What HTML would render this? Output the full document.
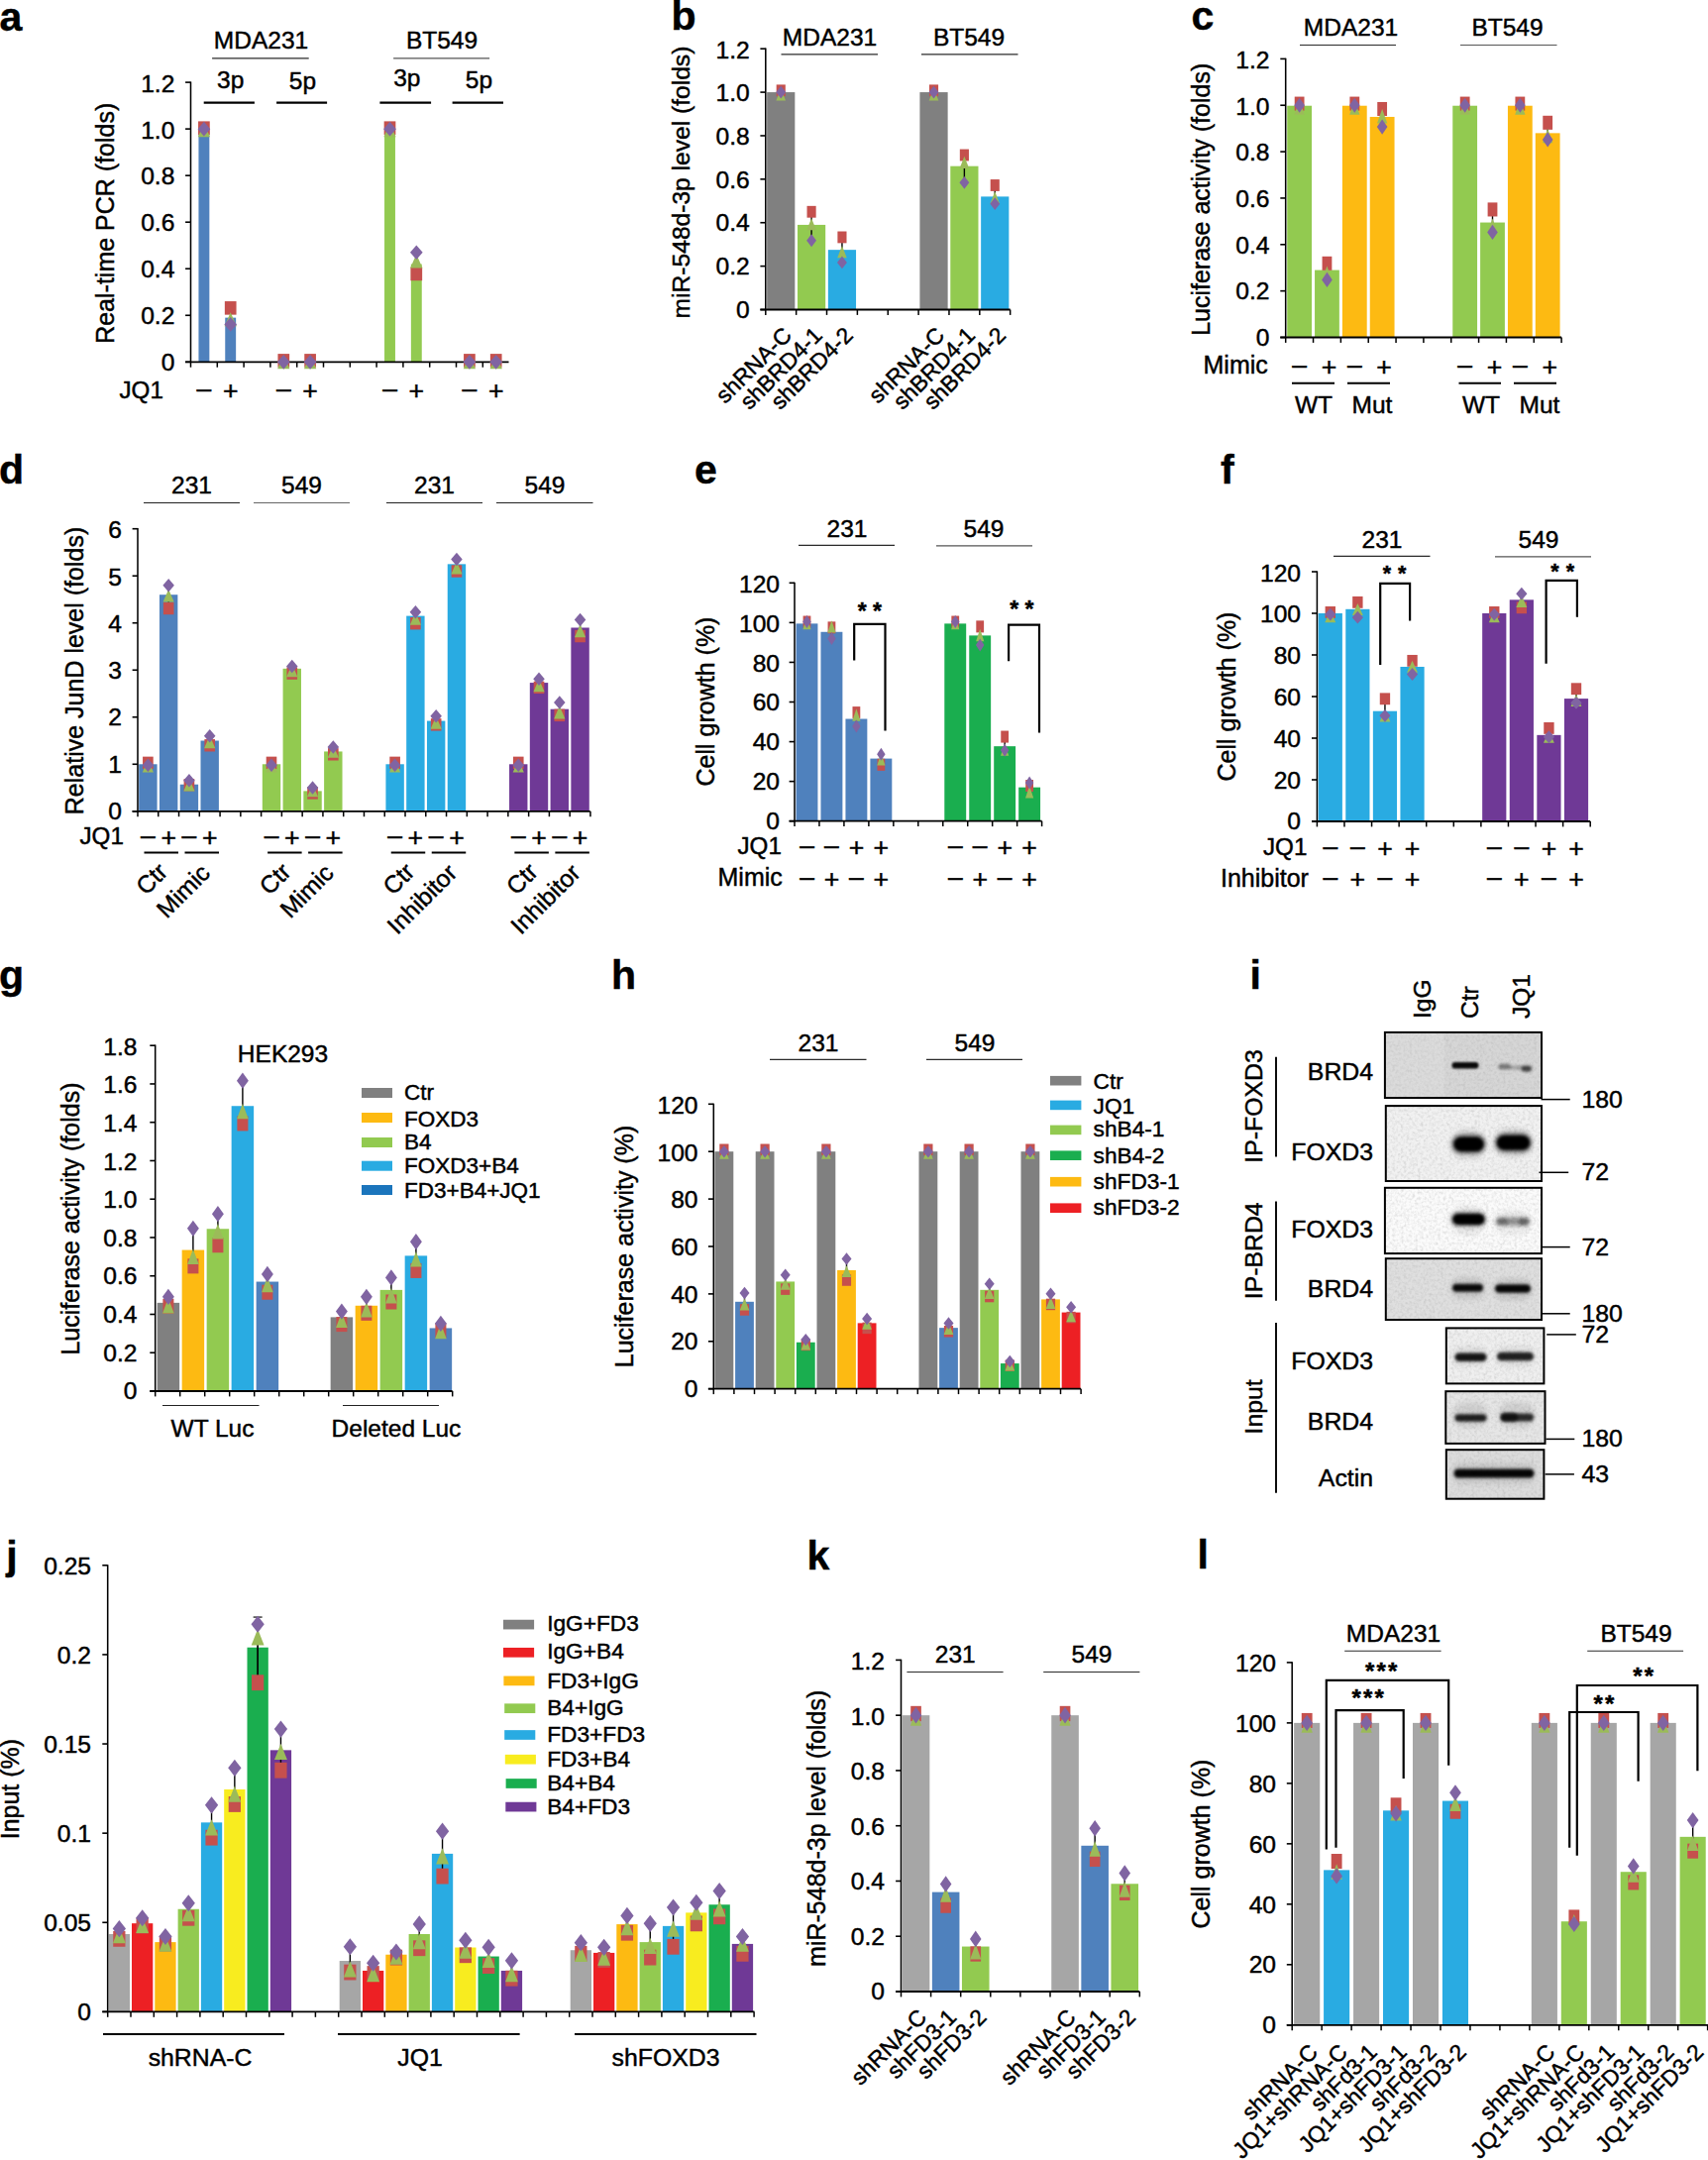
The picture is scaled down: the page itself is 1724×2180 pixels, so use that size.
<!DOCTYPE html>
<html><head><meta charset="utf-8"><title>Figure</title>
<style>
html,body{margin:0;padding:0;background:#fff;}
svg{display:block;}
text{font-family:'Liberation Sans', sans-serif;fill:#000;stroke:#000;stroke-width:0.45px;}
</style></head><body>
<svg width="1724" height="2180" viewBox="0 0 1724 2180">
<defs>
<filter id="bl1_3" x="-20%" y="-100%" width="140%" height="300%"><feGaussianBlur stdDeviation="1.3"/></filter>
<filter id="bl1_4" x="-20%" y="-100%" width="140%" height="300%"><feGaussianBlur stdDeviation="1.4"/></filter>
<filter id="bl1_5" x="-20%" y="-100%" width="140%" height="300%"><feGaussianBlur stdDeviation="1.5"/></filter>
<filter id="bl1_6" x="-20%" y="-100%" width="140%" height="300%"><feGaussianBlur stdDeviation="1.6"/></filter>
<filter id="bl1_7" x="-20%" y="-100%" width="140%" height="300%"><feGaussianBlur stdDeviation="1.7"/></filter>
<filter id="bl1_8" x="-20%" y="-100%" width="140%" height="300%"><feGaussianBlur stdDeviation="1.8"/></filter>
<filter id="bl2" x="-20%" y="-100%" width="140%" height="300%"><feGaussianBlur stdDeviation="2"/></filter>
<filter id="bl2_2" x="-20%" y="-100%" width="140%" height="300%"><feGaussianBlur stdDeviation="2.2"/></filter>
<filter id="bl2_4" x="-20%" y="-100%" width="140%" height="300%"><feGaussianBlur stdDeviation="2.4"/></filter>
<filter id="noise" x="0" y="0" width="100%" height="100%"><feTurbulence type="fractalNoise" baseFrequency="0.35" numOctaves="2" seed="7"/><feColorMatrix type="matrix" values="0 0 0 0 0.35  0 0 0 0 0.35  0 0 0 0 0.35  0.9 0.9 0 0 -0.78"/></filter>
<clipPath id="blotclip"><rect x="1397" y="1041" width="163" height="473"/></clipPath>
</defs>
<rect x="0" y="0" width="1724" height="2180" fill="#fff"/>
<text x="-0.5" y="30.8" font-size="41" font-weight="bold">a</text>
<rect x="200.45" y="130.13" width="10.9" height="235.17" fill="#4F81BD"/>
<rect x="227.25" y="320.62" width="10.9" height="44.68" fill="#4F81BD"/>
<rect x="388.05" y="130.13" width="10.9" height="235.17" fill="#92CA50"/>
<rect x="414.85" y="266.53" width="10.9" height="98.77" fill="#92CA50"/>
<line x1="192.5" y1="82.5" x2="192.5" y2="365.9" stroke="#000" stroke-width="1.55"/>
<line x1="187.1" y1="365.3" x2="192.5" y2="365.3" stroke="#000" stroke-width="1.6"/>
<text x="176.4" y="373.58" font-size="24.6" text-anchor="end">0</text>
<line x1="187.1" y1="318.27" x2="192.5" y2="318.27" stroke="#000" stroke-width="1.6"/>
<text x="176.4" y="326.77" font-size="24.6" text-anchor="end">0.2</text>
<line x1="187.1" y1="271.23" x2="192.5" y2="271.23" stroke="#000" stroke-width="1.6"/>
<text x="176.4" y="279.95" font-size="24.6" text-anchor="end">0.4</text>
<line x1="187.1" y1="224.2" x2="192.5" y2="224.2" stroke="#000" stroke-width="1.6"/>
<text x="176.4" y="233.13" font-size="24.6" text-anchor="end">0.6</text>
<line x1="187.1" y1="177.17" x2="192.5" y2="177.17" stroke="#000" stroke-width="1.6"/>
<text x="176.4" y="186.32" font-size="24.6" text-anchor="end">0.8</text>
<line x1="187.1" y1="130.13" x2="192.5" y2="130.13" stroke="#000" stroke-width="1.6"/>
<text x="176.4" y="139.5" font-size="24.6" text-anchor="end">1.0</text>
<line x1="187.1" y1="83.1" x2="192.5" y2="83.1" stroke="#000" stroke-width="1.6"/>
<text x="176.4" y="92.68" font-size="24.6" text-anchor="end">1.2</text>
<line x1="187.1" y1="365.3" x2="513.5" y2="365.3" stroke="#000" stroke-width="1.8"/>
<line x1="192.5" y1="365.3" x2="192.5" y2="370.7" stroke="#000" stroke-width="1.5"/>
<line x1="219.3" y1="365.3" x2="219.3" y2="370.7" stroke="#000" stroke-width="1.5"/>
<line x1="246.1" y1="365.3" x2="246.1" y2="370.7" stroke="#000" stroke-width="1.5"/>
<line x1="272.9" y1="365.3" x2="272.9" y2="370.7" stroke="#000" stroke-width="1.5"/>
<line x1="299.7" y1="365.3" x2="299.7" y2="370.7" stroke="#000" stroke-width="1.5"/>
<line x1="326.5" y1="365.3" x2="326.5" y2="370.7" stroke="#000" stroke-width="1.5"/>
<line x1="353.3" y1="365.3" x2="353.3" y2="370.7" stroke="#000" stroke-width="1.5"/>
<line x1="380.1" y1="365.3" x2="380.1" y2="370.7" stroke="#000" stroke-width="1.5"/>
<line x1="406.9" y1="365.3" x2="406.9" y2="370.7" stroke="#000" stroke-width="1.5"/>
<line x1="433.7" y1="365.3" x2="433.7" y2="370.7" stroke="#000" stroke-width="1.5"/>
<line x1="460.5" y1="365.3" x2="460.5" y2="370.7" stroke="#000" stroke-width="1.5"/>
<line x1="487.3" y1="365.3" x2="487.3" y2="370.7" stroke="#000" stroke-width="1.5"/>
<rect x="200.06" y="122.4" width="11.69" height="13.58" fill="#C5504D"/>
<polygon points="205.9,124.31 212.05,138.31 199.75,138.31" fill="#9BBB59"/>
<polygon points="205.9,122.78 212.23,130.13 205.9,137.48 199.57,130.13" fill="#8064A2"/>
<line x1="232.7" y1="310.86" x2="232.7" y2="327.44" stroke="#000" stroke-width="1.4"/>
<rect x="226.86" y="304.07" width="11.69" height="13.58" fill="#C5504D"/>
<polygon points="232.7,315.26 238.85,329.26 226.55,329.26" fill="#9BBB59"/>
<polygon points="232.7,320.09 239.03,327.44 232.7,334.79 226.37,327.44" fill="#8064A2"/>
<rect x="280.46" y="357.1" width="11.69" height="13.58" fill="#C5504D"/>
<polygon points="286.3,358.3 292.45,372.3 280.15,372.3" fill="#9BBB59"/>
<polygon points="286.3,357.95 292.63,365.3 286.3,372.65 279.97,365.3" fill="#8064A2"/>
<rect x="307.26" y="357.1" width="11.69" height="13.58" fill="#C5504D"/>
<polygon points="313.1,358.3 319.25,372.3 306.95,372.3" fill="#9BBB59"/>
<polygon points="313.1,357.95 319.43,365.3 313.1,372.65 306.77,365.3" fill="#8064A2"/>
<rect x="387.66" y="122.4" width="11.69" height="13.58" fill="#C5504D"/>
<polygon points="393.5,124.31 399.65,138.31 387.35,138.31" fill="#9BBB59"/>
<polygon points="393.5,122.78 399.83,130.13 393.5,137.48 387.17,130.13" fill="#8064A2"/>
<line x1="420.3" y1="254.77" x2="420.3" y2="276.41" stroke="#000" stroke-width="1.4"/>
<rect x="414.46" y="269.62" width="11.69" height="13.58" fill="#C5504D"/>
<polygon points="420.3,256.47 426.45,270.47 414.15,270.47" fill="#9BBB59"/>
<polygon points="420.3,247.42 426.63,254.77 420.3,262.12 413.97,254.77" fill="#8064A2"/>
<rect x="468.06" y="357.1" width="11.69" height="13.58" fill="#C5504D"/>
<polygon points="473.9,358.3 480.05,372.3 467.75,372.3" fill="#9BBB59"/>
<polygon points="473.9,357.95 480.23,365.3 473.9,372.65 467.57,365.3" fill="#8064A2"/>
<rect x="494.86" y="357.1" width="11.69" height="13.58" fill="#C5504D"/>
<polygon points="500.7,358.3 506.85,372.3 494.55,372.3" fill="#9BBB59"/>
<polygon points="500.7,357.95 507.03,365.3 500.7,372.65 494.37,365.3" fill="#8064A2"/>
<text x="114.6" y="225.3" font-size="25" text-anchor="middle" transform="rotate(-90 114.6 225.3)">Real-time PCR (folds)</text>
<text x="263.5" y="48.9" font-size="24.5" text-anchor="middle">MDA231</text>
<line x1="214.1" y1="58.8" x2="311.7" y2="58.8" stroke="#2a2a2a" stroke-width="1.15"/>
<text x="446" y="48.9" font-size="24.5" text-anchor="middle">BT549</text>
<line x1="397.1" y1="58.8" x2="494.1" y2="58.8" stroke="#555" stroke-width="1.15"/>
<text x="232.7" y="88.5" font-size="24.5" text-anchor="middle">3p</text>
<text x="305.4" y="89.6" font-size="24.5" text-anchor="middle">5p</text>
<text x="410.8" y="87" font-size="24.5" text-anchor="middle">3p</text>
<text x="483.5" y="89.1" font-size="24.5" text-anchor="middle">5p</text>
<line x1="205.7" y1="103.6" x2="256.9" y2="103.6" stroke="#000" stroke-width="2.4"/>
<line x1="279.1" y1="103.6" x2="330.1" y2="103.6" stroke="#000" stroke-width="2.4"/>
<line x1="383.4" y1="103.6" x2="435.1" y2="103.6" stroke="#000" stroke-width="2.4"/>
<line x1="456.6" y1="103.6" x2="508" y2="103.6" stroke="#000" stroke-width="2.4"/>
<text x="120.5" y="401.6" font-size="24.2">JQ1</text>
<text x="205.9" y="401.31" font-size="26.4" text-anchor="middle">–</text>
<text x="232.7" y="403.44" font-size="26.6" text-anchor="middle">+</text>
<text x="286.3" y="401.31" font-size="26.4" text-anchor="middle">–</text>
<text x="313.1" y="403.44" font-size="26.6" text-anchor="middle">+</text>
<text x="393.5" y="401.31" font-size="26.4" text-anchor="middle">–</text>
<text x="420.3" y="403.44" font-size="26.6" text-anchor="middle">+</text>
<text x="473.9" y="401.31" font-size="26.4" text-anchor="middle">–</text>
<text x="500.7" y="403.44" font-size="26.6" text-anchor="middle">+</text>
<text x="677.5" y="30.3" font-size="41" font-weight="bold">b</text>
<rect x="774.13" y="93.08" width="28.2" height="219.42" fill="#808080"/>
<rect x="804.99" y="226.93" width="28.2" height="85.57" fill="#92CA50"/>
<rect x="835.85" y="252.16" width="28.2" height="60.34" fill="#29ABE2"/>
<rect x="928.43" y="93.08" width="28.2" height="219.42" fill="#808080"/>
<rect x="959.29" y="167.68" width="28.2" height="144.82" fill="#92CA50"/>
<rect x="990.15" y="198.4" width="28.2" height="114.1" fill="#29ABE2"/>
<line x1="772.8" y1="48.6" x2="772.8" y2="313.1" stroke="#000" stroke-width="1.55"/>
<line x1="767.4" y1="312.5" x2="772.8" y2="312.5" stroke="#000" stroke-width="1.6"/>
<text x="756.7" y="320.78" font-size="24.6" text-anchor="end">0</text>
<line x1="767.4" y1="268.62" x2="772.8" y2="268.62" stroke="#000" stroke-width="1.6"/>
<text x="756.7" y="277.12" font-size="24.6" text-anchor="end">0.2</text>
<line x1="767.4" y1="224.73" x2="772.8" y2="224.73" stroke="#000" stroke-width="1.6"/>
<text x="756.7" y="233.45" font-size="24.6" text-anchor="end">0.4</text>
<line x1="767.4" y1="180.85" x2="772.8" y2="180.85" stroke="#000" stroke-width="1.6"/>
<text x="756.7" y="189.78" font-size="24.6" text-anchor="end">0.6</text>
<line x1="767.4" y1="136.97" x2="772.8" y2="136.97" stroke="#000" stroke-width="1.6"/>
<text x="756.7" y="146.12" font-size="24.6" text-anchor="end">0.8</text>
<line x1="767.4" y1="93.08" x2="772.8" y2="93.08" stroke="#000" stroke-width="1.6"/>
<text x="756.7" y="102.45" font-size="24.6" text-anchor="end">1.0</text>
<line x1="767.4" y1="49.2" x2="772.8" y2="49.2" stroke="#000" stroke-width="1.6"/>
<text x="756.7" y="58.78" font-size="24.6" text-anchor="end">1.2</text>
<line x1="767.4" y1="312.5" x2="1019.68" y2="312.5" stroke="#000" stroke-width="1.8"/>
<line x1="772.8" y1="312.5" x2="772.8" y2="317.9" stroke="#000" stroke-width="1.5"/>
<line x1="803.66" y1="312.5" x2="803.66" y2="317.9" stroke="#000" stroke-width="1.5"/>
<line x1="834.52" y1="312.5" x2="834.52" y2="317.9" stroke="#000" stroke-width="1.5"/>
<line x1="865.38" y1="312.5" x2="865.38" y2="317.9" stroke="#000" stroke-width="1.5"/>
<line x1="896.24" y1="312.5" x2="896.24" y2="317.9" stroke="#000" stroke-width="1.5"/>
<line x1="927.1" y1="312.5" x2="927.1" y2="317.9" stroke="#000" stroke-width="1.5"/>
<line x1="957.96" y1="312.5" x2="957.96" y2="317.9" stroke="#000" stroke-width="1.5"/>
<line x1="988.82" y1="312.5" x2="988.82" y2="317.9" stroke="#000" stroke-width="1.5"/>
<line x1="1019.68" y1="312.5" x2="1019.68" y2="317.9" stroke="#000" stroke-width="1.5"/>
<line x1="788.23" y1="91.33" x2="788.23" y2="95.28" stroke="#000" stroke-width="1.4"/>
<rect x="783.67" y="85.41" width="9.12" height="11.83" fill="#C5504D"/>
<polygon points="788.23,89.18 793.03,101.38 783.43,101.38" fill="#9BBB59"/>
<polygon points="788.23,86.68 793.17,93.08 788.23,99.49 783.29,93.08" fill="#8064A2"/>
<line x1="819.09" y1="213.76" x2="819.09" y2="242.73" stroke="#000" stroke-width="1.4"/>
<rect x="814.53" y="207.85" width="9.12" height="11.83" fill="#C5504D"/>
<polygon points="819.09,220.17 823.89,232.37 814.29,232.37" fill="#9BBB59"/>
<polygon points="819.09,236.32 824.03,242.73 819.09,249.13 814.15,242.73" fill="#8064A2"/>
<line x1="849.95" y1="239.43" x2="849.95" y2="264.89" stroke="#000" stroke-width="1.4"/>
<rect x="845.39" y="233.52" width="9.12" height="11.83" fill="#C5504D"/>
<polygon points="849.95,248.04 854.75,260.24 845.15,260.24" fill="#9BBB59"/>
<polygon points="849.95,258.48 854.89,264.89 849.95,271.29 845.01,264.89" fill="#8064A2"/>
<line x1="942.53" y1="91.33" x2="942.53" y2="95.28" stroke="#000" stroke-width="1.4"/>
<rect x="937.97" y="85.41" width="9.12" height="11.83" fill="#C5504D"/>
<polygon points="942.53,89.18 947.33,101.38 937.73,101.38" fill="#9BBB59"/>
<polygon points="942.53,86.68 947.47,93.08 942.53,99.49 937.59,93.08" fill="#8064A2"/>
<line x1="973.39" y1="156.49" x2="973.39" y2="184.36" stroke="#000" stroke-width="1.4"/>
<rect x="968.83" y="150.58" width="9.12" height="11.83" fill="#C5504D"/>
<polygon points="973.39,157.85 978.19,170.05 968.59,170.05" fill="#9BBB59"/>
<polygon points="973.39,177.96 978.33,184.36 973.39,190.77 968.45,184.36" fill="#8064A2"/>
<line x1="1004.25" y1="186.99" x2="1004.25" y2="205.64" stroke="#000" stroke-width="1.4"/>
<rect x="999.69" y="181.08" width="9.12" height="11.83" fill="#C5504D"/>
<polygon points="1004.25,193.18 1009.05,205.38 999.45,205.38" fill="#9BBB59"/>
<polygon points="1004.25,199.24 1009.19,205.64 1004.25,212.05 999.31,205.64" fill="#8064A2"/>
<text x="696" y="184" font-size="24.6" text-anchor="middle" transform="rotate(-90 696 184)">miR-548d-3p level (folds)</text>
<text x="837.5" y="46" font-size="24.5" text-anchor="middle">MDA231</text>
<line x1="788.5" y1="54.8" x2="886" y2="54.8" stroke="#2a2a2a" stroke-width="1.15"/>
<text x="978" y="46" font-size="24.5" text-anchor="middle">BT549</text>
<line x1="930" y1="54.8" x2="1027.5" y2="54.8" stroke="#2a2a2a" stroke-width="1.15"/>
<text x="800.43" y="339.8" font-size="22.9" text-anchor="end" transform="rotate(-45 800.43 339.8)">shRNA-C</text>
<text x="831.29" y="339.8" font-size="22.9" text-anchor="end" transform="rotate(-45 831.29 339.8)">shBRD4-1</text>
<text x="862.15" y="339.8" font-size="22.9" text-anchor="end" transform="rotate(-45 862.15 339.8)">shBRD4-2</text>
<text x="954.73" y="339.8" font-size="22.9" text-anchor="end" transform="rotate(-45 954.73 339.8)">shRNA-C</text>
<text x="985.59" y="339.8" font-size="22.9" text-anchor="end" transform="rotate(-45 985.59 339.8)">shBRD4-1</text>
<text x="1016.45" y="339.8" font-size="22.9" text-anchor="end" transform="rotate(-45 1016.45 339.8)">shBRD4-2</text>
<text x="1202.5" y="30.3" font-size="41" font-weight="bold">c</text>
<rect x="1299.22" y="106.72" width="24.8" height="233.78" fill="#92CA50"/>
<rect x="1327.06" y="272.57" width="24.8" height="67.93" fill="#92CA50"/>
<rect x="1354.9" y="106.72" width="24.8" height="233.78" fill="#FDBA12"/>
<rect x="1382.74" y="117.96" width="24.8" height="222.54" fill="#FDBA12"/>
<rect x="1466.26" y="106.72" width="24.8" height="233.78" fill="#92CA50"/>
<rect x="1494.1" y="224.55" width="24.8" height="115.95" fill="#92CA50"/>
<rect x="1521.94" y="106.72" width="24.8" height="233.78" fill="#FDBA12"/>
<rect x="1549.78" y="134.36" width="24.8" height="206.14" fill="#FDBA12"/>
<line x1="1297.7" y1="58.8" x2="1297.7" y2="341.1" stroke="#000" stroke-width="1.55"/>
<line x1="1292.3" y1="340.5" x2="1297.7" y2="340.5" stroke="#000" stroke-width="1.6"/>
<text x="1281.5" y="348.78" font-size="24.6" text-anchor="end">0</text>
<line x1="1292.3" y1="293.65" x2="1297.7" y2="293.65" stroke="#000" stroke-width="1.6"/>
<text x="1281.5" y="302.15" font-size="24.6" text-anchor="end">0.2</text>
<line x1="1292.3" y1="246.8" x2="1297.7" y2="246.8" stroke="#000" stroke-width="1.6"/>
<text x="1281.5" y="255.52" font-size="24.6" text-anchor="end">0.4</text>
<line x1="1292.3" y1="199.95" x2="1297.7" y2="199.95" stroke="#000" stroke-width="1.6"/>
<text x="1281.5" y="208.88" font-size="24.6" text-anchor="end">0.6</text>
<line x1="1292.3" y1="153.1" x2="1297.7" y2="153.1" stroke="#000" stroke-width="1.6"/>
<text x="1281.5" y="162.25" font-size="24.6" text-anchor="end">0.8</text>
<line x1="1292.3" y1="106.25" x2="1297.7" y2="106.25" stroke="#000" stroke-width="1.6"/>
<text x="1281.5" y="115.62" font-size="24.6" text-anchor="end">1.0</text>
<line x1="1292.3" y1="59.4" x2="1297.7" y2="59.4" stroke="#000" stroke-width="1.6"/>
<text x="1281.5" y="68.98" font-size="24.6" text-anchor="end">1.2</text>
<line x1="1292.3" y1="340.5" x2="1576.1" y2="340.5" stroke="#000" stroke-width="1.8"/>
<line x1="1297.7" y1="340.5" x2="1297.7" y2="345.9" stroke="#000" stroke-width="1.5"/>
<line x1="1325.54" y1="340.5" x2="1325.54" y2="345.9" stroke="#000" stroke-width="1.5"/>
<line x1="1353.38" y1="340.5" x2="1353.38" y2="345.9" stroke="#000" stroke-width="1.5"/>
<line x1="1381.22" y1="340.5" x2="1381.22" y2="345.9" stroke="#000" stroke-width="1.5"/>
<line x1="1409.06" y1="340.5" x2="1409.06" y2="345.9" stroke="#000" stroke-width="1.5"/>
<line x1="1436.9" y1="340.5" x2="1436.9" y2="345.9" stroke="#000" stroke-width="1.5"/>
<line x1="1464.74" y1="340.5" x2="1464.74" y2="345.9" stroke="#000" stroke-width="1.5"/>
<line x1="1492.58" y1="340.5" x2="1492.58" y2="345.9" stroke="#000" stroke-width="1.5"/>
<line x1="1520.42" y1="340.5" x2="1520.42" y2="345.9" stroke="#000" stroke-width="1.5"/>
<line x1="1548.26" y1="340.5" x2="1548.26" y2="345.9" stroke="#000" stroke-width="1.5"/>
<line x1="1576.1" y1="340.5" x2="1576.1" y2="345.9" stroke="#000" stroke-width="1.5"/>
<line x1="1311.62" y1="104.61" x2="1311.62" y2="108.59" stroke="#000" stroke-width="1.4"/>
<rect x="1306.73" y="97.58" width="9.79" height="14.06" fill="#C5504D"/>
<polygon points="1311.62,101.34 1316.77,115.84 1306.47,115.84" fill="#9BBB59"/>
<polygon points="1311.62,98.64 1316.92,106.25 1311.62,113.86 1306.32,106.25" fill="#8064A2"/>
<line x1="1339.46" y1="265.84" x2="1339.46" y2="282.41" stroke="#000" stroke-width="1.4"/>
<rect x="1334.57" y="258.81" width="9.79" height="14.06" fill="#C5504D"/>
<polygon points="1339.46,268.6 1344.61,283.1 1334.31,283.1" fill="#9BBB59"/>
<polygon points="1339.46,274.79 1344.76,282.41 1339.46,290.02 1334.16,282.41" fill="#8064A2"/>
<line x1="1367.3" y1="104.61" x2="1367.3" y2="108.59" stroke="#000" stroke-width="1.4"/>
<rect x="1362.41" y="97.58" width="9.79" height="14.06" fill="#C5504D"/>
<polygon points="1367.3,101.34 1372.45,115.84 1362.15,115.84" fill="#9BBB59"/>
<polygon points="1367.3,98.64 1372.6,106.25 1367.3,113.86 1362,106.25" fill="#8064A2"/>
<line x1="1395.14" y1="110" x2="1395.14" y2="128.04" stroke="#000" stroke-width="1.4"/>
<rect x="1390.25" y="102.97" width="9.79" height="14.06" fill="#C5504D"/>
<polygon points="1395.14,110.01 1400.29,124.51 1389.99,124.51" fill="#9BBB59"/>
<polygon points="1395.14,120.42 1400.44,128.04 1395.14,135.65 1389.84,128.04" fill="#8064A2"/>
<line x1="1478.66" y1="104.61" x2="1478.66" y2="108.59" stroke="#000" stroke-width="1.4"/>
<rect x="1473.77" y="97.58" width="9.79" height="14.06" fill="#C5504D"/>
<polygon points="1478.66,101.34 1483.81,115.84 1473.51,115.84" fill="#9BBB59"/>
<polygon points="1478.66,98.64 1483.96,106.25 1478.66,113.86 1473.36,106.25" fill="#8064A2"/>
<line x1="1506.5" y1="211.43" x2="1506.5" y2="234.46" stroke="#000" stroke-width="1.4"/>
<rect x="1501.61" y="204.4" width="9.79" height="14.06" fill="#C5504D"/>
<polygon points="1506.5,220.58 1511.65,235.08 1501.35,235.08" fill="#9BBB59"/>
<polygon points="1506.5,226.84 1511.8,234.46 1506.5,242.07 1501.2,234.46" fill="#8064A2"/>
<line x1="1534.34" y1="104.61" x2="1534.34" y2="108.59" stroke="#000" stroke-width="1.4"/>
<rect x="1529.45" y="97.58" width="9.79" height="14.06" fill="#C5504D"/>
<polygon points="1534.34,101.34 1539.49,115.84 1529.19,115.84" fill="#9BBB59"/>
<polygon points="1534.34,98.64 1539.64,106.25 1534.34,113.86 1529.04,106.25" fill="#8064A2"/>
<line x1="1562.18" y1="123.82" x2="1562.18" y2="140.92" stroke="#000" stroke-width="1.4"/>
<rect x="1557.29" y="116.79" width="9.79" height="14.06" fill="#C5504D"/>
<polygon points="1562.18,129.69 1567.33,144.19 1557.03,144.19" fill="#9BBB59"/>
<polygon points="1562.18,133.31 1567.48,140.92 1562.18,148.53 1556.88,140.92" fill="#8064A2"/>
<text x="1221" y="201.3" font-size="25" text-anchor="middle" transform="rotate(-90 1221 201.3)">Luciferase activity (folds)</text>
<text x="1363.5" y="35.7" font-size="24.5" text-anchor="middle">MDA231</text>
<line x1="1312" y1="45.5" x2="1409" y2="45.5" stroke="#2a2a2a" stroke-width="1.15"/>
<text x="1521.5" y="35.7" font-size="24.5" text-anchor="middle">BT549</text>
<line x1="1474" y1="45.5" x2="1571.5" y2="45.5" stroke="#555" stroke-width="1.15"/>
<text x="1214.5" y="377" font-size="25">Mimic</text>
<text x="1311.62" y="376.91" font-size="26.4" text-anchor="middle">–</text>
<text x="1341.46" y="379.04" font-size="26.6" text-anchor="middle">+</text>
<text x="1367.3" y="376.91" font-size="26.4" text-anchor="middle">–</text>
<text x="1397.14" y="379.04" font-size="26.6" text-anchor="middle">+</text>
<text x="1478.66" y="376.91" font-size="26.4" text-anchor="middle">–</text>
<text x="1508.5" y="379.04" font-size="26.6" text-anchor="middle">+</text>
<text x="1534.34" y="376.91" font-size="26.4" text-anchor="middle">–</text>
<text x="1564.18" y="379.04" font-size="26.6" text-anchor="middle">+</text>
<line x1="1304" y1="386.7" x2="1347" y2="386.7" stroke="#000" stroke-width="2.1"/>
<line x1="1360" y1="386.7" x2="1403" y2="386.7" stroke="#000" stroke-width="2.1"/>
<line x1="1472.5" y1="386.7" x2="1515" y2="386.7" stroke="#000" stroke-width="2.1"/>
<line x1="1528" y1="386.7" x2="1571" y2="386.7" stroke="#000" stroke-width="2.1"/>
<text x="1326" y="416.5" font-size="24.5" text-anchor="middle">WT</text>
<text x="1385" y="416.5" font-size="24.5" text-anchor="middle">Mut</text>
<text x="1495" y="416.5" font-size="24.5" text-anchor="middle">WT</text>
<text x="1554" y="416.5" font-size="24.5" text-anchor="middle">Mut</text>
<text x="-1" y="488" font-size="41" font-weight="bold">d</text>
<rect x="140.19" y="771.28" width="18.4" height="47.52" fill="#4F81BD"/>
<rect x="160.96" y="600.22" width="18.4" height="218.58" fill="#4F81BD"/>
<rect x="181.73" y="791.72" width="18.4" height="27.08" fill="#4F81BD"/>
<rect x="202.5" y="747.52" width="18.4" height="71.27" fill="#4F81BD"/>
<rect x="264.81" y="771.28" width="18.4" height="47.52" fill="#92CA50"/>
<rect x="285.57" y="674.82" width="18.4" height="143.98" fill="#92CA50"/>
<rect x="306.34" y="798.37" width="18.4" height="20.43" fill="#92CA50"/>
<rect x="327.12" y="758.45" width="18.4" height="60.35" fill="#92CA50"/>
<rect x="389.43" y="771.28" width="18.4" height="47.52" fill="#29ABE2"/>
<rect x="410.19" y="621.61" width="18.4" height="197.19" fill="#29ABE2"/>
<rect x="430.97" y="727.57" width="18.4" height="91.23" fill="#29ABE2"/>
<rect x="451.74" y="569.34" width="18.4" height="249.46" fill="#29ABE2"/>
<rect x="514.04" y="771.28" width="18.4" height="47.52" fill="#6F3996"/>
<rect x="534.81" y="689.08" width="18.4" height="129.72" fill="#6F3996"/>
<rect x="555.58" y="715.69" width="18.4" height="103.11" fill="#6F3996"/>
<rect x="576.36" y="633.49" width="18.4" height="185.31" fill="#6F3996"/>
<line x1="139" y1="533.1" x2="139" y2="819.4" stroke="#000" stroke-width="1.55"/>
<line x1="133.6" y1="818.8" x2="139" y2="818.8" stroke="#000" stroke-width="1.6"/>
<text x="123" y="827.08" font-size="24.6" text-anchor="end">0</text>
<line x1="133.6" y1="771.28" x2="139" y2="771.28" stroke="#000" stroke-width="1.6"/>
<text x="123" y="779.78" font-size="24.6" text-anchor="end">1</text>
<line x1="133.6" y1="723.77" x2="139" y2="723.77" stroke="#000" stroke-width="1.6"/>
<text x="123" y="732.48" font-size="24.6" text-anchor="end">2</text>
<line x1="133.6" y1="676.25" x2="139" y2="676.25" stroke="#000" stroke-width="1.6"/>
<text x="123" y="685.18" font-size="24.6" text-anchor="end">3</text>
<line x1="133.6" y1="628.73" x2="139" y2="628.73" stroke="#000" stroke-width="1.6"/>
<text x="123" y="637.88" font-size="24.6" text-anchor="end">4</text>
<line x1="133.6" y1="581.22" x2="139" y2="581.22" stroke="#000" stroke-width="1.6"/>
<text x="123" y="590.58" font-size="24.6" text-anchor="end">5</text>
<line x1="133.6" y1="533.7" x2="139" y2="533.7" stroke="#000" stroke-width="1.6"/>
<text x="123" y="543.28" font-size="24.6" text-anchor="end">6</text>
<line x1="133.6" y1="818.8" x2="595.7" y2="818.8" stroke="#000" stroke-width="1.8"/>
<line x1="139" y1="818.8" x2="139" y2="824.2" stroke="#000" stroke-width="1.5"/>
<line x1="159.77" y1="818.8" x2="159.77" y2="824.2" stroke="#000" stroke-width="1.5"/>
<line x1="180.54" y1="818.8" x2="180.54" y2="824.2" stroke="#000" stroke-width="1.5"/>
<line x1="201.31" y1="818.8" x2="201.31" y2="824.2" stroke="#000" stroke-width="1.5"/>
<line x1="222.08" y1="818.8" x2="222.08" y2="824.2" stroke="#000" stroke-width="1.5"/>
<line x1="242.85" y1="818.8" x2="242.85" y2="824.2" stroke="#000" stroke-width="1.5"/>
<line x1="263.62" y1="818.8" x2="263.62" y2="824.2" stroke="#000" stroke-width="1.5"/>
<line x1="284.39" y1="818.8" x2="284.39" y2="824.2" stroke="#000" stroke-width="1.5"/>
<line x1="305.16" y1="818.8" x2="305.16" y2="824.2" stroke="#000" stroke-width="1.5"/>
<line x1="325.93" y1="818.8" x2="325.93" y2="824.2" stroke="#000" stroke-width="1.5"/>
<line x1="346.7" y1="818.8" x2="346.7" y2="824.2" stroke="#000" stroke-width="1.5"/>
<line x1="367.47" y1="818.8" x2="367.47" y2="824.2" stroke="#000" stroke-width="1.5"/>
<line x1="388.24" y1="818.8" x2="388.24" y2="824.2" stroke="#000" stroke-width="1.5"/>
<line x1="409.01" y1="818.8" x2="409.01" y2="824.2" stroke="#000" stroke-width="1.5"/>
<line x1="429.78" y1="818.8" x2="429.78" y2="824.2" stroke="#000" stroke-width="1.5"/>
<line x1="450.55" y1="818.8" x2="450.55" y2="824.2" stroke="#000" stroke-width="1.5"/>
<line x1="471.32" y1="818.8" x2="471.32" y2="824.2" stroke="#000" stroke-width="1.5"/>
<line x1="492.09" y1="818.8" x2="492.09" y2="824.2" stroke="#000" stroke-width="1.5"/>
<line x1="512.86" y1="818.8" x2="512.86" y2="824.2" stroke="#000" stroke-width="1.5"/>
<line x1="533.63" y1="818.8" x2="533.63" y2="824.2" stroke="#000" stroke-width="1.5"/>
<line x1="554.4" y1="818.8" x2="554.4" y2="824.2" stroke="#000" stroke-width="1.5"/>
<line x1="575.17" y1="818.8" x2="575.17" y2="824.2" stroke="#000" stroke-width="1.5"/>
<line x1="595.94" y1="818.8" x2="595.94" y2="824.2" stroke="#000" stroke-width="1.5"/>
<line x1="149.38" y1="769.86" x2="149.38" y2="773.18" stroke="#000" stroke-width="1.4"/>
<rect x="144.06" y="763.65" width="10.64" height="12.42" fill="#C5504D"/>
<polygon points="149.38,766.78 154.98,779.58 143.78,779.58" fill="#9BBB59"/>
<polygon points="149.38,765.51 155.15,772.23 149.38,778.95 143.62,772.23" fill="#8064A2"/>
<line x1="170.16" y1="590.72" x2="170.16" y2="614" stroke="#000" stroke-width="1.4"/>
<rect x="164.84" y="607.8" width="10.64" height="12.42" fill="#C5504D"/>
<polygon points="170.16,594.77 175.75,607.57 164.56,607.57" fill="#9BBB59"/>
<polygon points="170.16,584 175.92,590.72 170.16,597.44 164.39,590.72" fill="#8064A2"/>
<line x1="190.93" y1="787.68" x2="190.93" y2="792.19" stroke="#000" stroke-width="1.4"/>
<rect x="185.61" y="785.98" width="10.64" height="12.42" fill="#C5504D"/>
<polygon points="190.93,785.79 196.53,798.59 185.33,798.59" fill="#9BBB59"/>
<polygon points="190.93,780.96 196.69,787.68 190.93,794.4 185.16,787.68" fill="#8064A2"/>
<line x1="211.69" y1="742.77" x2="211.69" y2="752.28" stroke="#000" stroke-width="1.4"/>
<rect x="206.38" y="746.07" width="10.64" height="12.42" fill="#C5504D"/>
<polygon points="211.69,742.55 217.29,755.35 206.09,755.35" fill="#9BBB59"/>
<polygon points="211.69,736.05 217.46,742.77 211.69,749.49 205.93,742.77" fill="#8064A2"/>
<line x1="274" y1="769.86" x2="274" y2="773.18" stroke="#000" stroke-width="1.4"/>
<rect x="268.69" y="763.65" width="10.64" height="12.42" fill="#C5504D"/>
<polygon points="274,766.78 279.61,779.58 268.4,779.58" fill="#9BBB59"/>
<polygon points="274,765.51 279.77,772.23 274,778.95 268.24,772.23" fill="#8064A2"/>
<line x1="294.77" y1="672.45" x2="294.77" y2="679.58" stroke="#000" stroke-width="1.4"/>
<rect x="289.45" y="673.37" width="10.64" height="12.42" fill="#C5504D"/>
<polygon points="294.77,670.33 300.38,683.13 289.17,683.13" fill="#9BBB59"/>
<polygon points="294.77,665.73 300.54,672.45 294.77,679.17 289.01,672.45" fill="#8064A2"/>
<line x1="315.54" y1="795.04" x2="315.54" y2="800.41" stroke="#000" stroke-width="1.4"/>
<rect x="310.22" y="794.2" width="10.64" height="12.42" fill="#C5504D"/>
<polygon points="315.54,791.49 321.14,804.29 309.94,804.29" fill="#9BBB59"/>
<polygon points="315.54,788.32 321.31,795.04 315.54,801.76 309.78,795.04" fill="#8064A2"/>
<line x1="336.31" y1="753.94" x2="336.31" y2="761.3" stroke="#000" stroke-width="1.4"/>
<rect x="331" y="755.1" width="10.64" height="12.42" fill="#C5504D"/>
<polygon points="336.31,752.05 341.92,764.85 330.71,764.85" fill="#9BBB59"/>
<polygon points="336.31,747.22 342.08,753.94 336.31,760.66 330.55,753.94" fill="#8064A2"/>
<line x1="398.62" y1="769.86" x2="398.62" y2="773.18" stroke="#000" stroke-width="1.4"/>
<rect x="393.31" y="763.65" width="10.64" height="12.42" fill="#C5504D"/>
<polygon points="398.62,766.78 404.23,779.58 393.02,779.58" fill="#9BBB59"/>
<polygon points="398.62,765.51 404.39,772.23 398.62,778.95 392.86,772.23" fill="#8064A2"/>
<line x1="419.39" y1="617.8" x2="419.39" y2="629.21" stroke="#000" stroke-width="1.4"/>
<rect x="414.07" y="623" width="10.64" height="12.42" fill="#C5504D"/>
<polygon points="419.39,618.06 425,630.86 413.79,630.86" fill="#9BBB59"/>
<polygon points="419.39,611.08 425.16,617.8 419.39,624.52 413.63,617.8" fill="#8064A2"/>
<line x1="440.17" y1="722.82" x2="440.17" y2="731.37" stroke="#000" stroke-width="1.4"/>
<rect x="434.85" y="725.16" width="10.64" height="12.42" fill="#C5504D"/>
<polygon points="440.17,723.07 445.77,735.87 434.56,735.87" fill="#9BBB59"/>
<polygon points="440.17,716.1 445.93,722.82 440.17,729.54 434.4,722.82" fill="#8064A2"/>
<line x1="460.94" y1="564.59" x2="460.94" y2="576.47" stroke="#000" stroke-width="1.4"/>
<rect x="455.62" y="570.26" width="10.64" height="12.42" fill="#C5504D"/>
<polygon points="460.94,566.74 466.54,579.54 455.33,579.54" fill="#9BBB59"/>
<polygon points="460.94,557.87 466.7,564.59 460.94,571.31 455.17,564.59" fill="#8064A2"/>
<line x1="523.25" y1="769.86" x2="523.25" y2="773.18" stroke="#000" stroke-width="1.4"/>
<rect x="517.92" y="763.65" width="10.64" height="12.42" fill="#C5504D"/>
<polygon points="523.25,766.78 528.85,779.58 517.64,779.58" fill="#9BBB59"/>
<polygon points="523.25,765.51 529.01,772.23 523.25,778.95 517.48,772.23" fill="#8064A2"/>
<line x1="544.01" y1="685.28" x2="544.01" y2="693.83" stroke="#000" stroke-width="1.4"/>
<rect x="538.69" y="687.62" width="10.64" height="12.42" fill="#C5504D"/>
<polygon points="544.01,685.53 549.62,698.33 538.41,698.33" fill="#9BBB59"/>
<polygon points="544.01,678.56 549.78,685.28 544.01,692 538.25,685.28" fill="#8064A2"/>
<line x1="564.78" y1="709.04" x2="564.78" y2="721.87" stroke="#000" stroke-width="1.4"/>
<rect x="559.46" y="715.66" width="10.64" height="12.42" fill="#C5504D"/>
<polygon points="564.78,712.62 570.38,725.41 559.18,725.41" fill="#9BBB59"/>
<polygon points="564.78,702.32 570.55,709.04 564.78,715.76 559.02,709.04" fill="#8064A2"/>
<line x1="585.56" y1="625.41" x2="585.56" y2="642.04" stroke="#000" stroke-width="1.4"/>
<rect x="580.24" y="635.83" width="10.64" height="12.42" fill="#C5504D"/>
<polygon points="585.56,630.41 591.16,643.21 579.96,643.21" fill="#9BBB59"/>
<polygon points="585.56,618.69 591.32,625.41 585.56,632.13 579.79,625.41" fill="#8064A2"/>
<text x="83.8" y="677" font-size="25" text-anchor="middle" transform="rotate(-90 83.8 677)">Relative JunD level (folds)</text>
<text x="193.5" y="497.5" font-size="24.5" text-anchor="middle">231</text>
<line x1="145" y1="507.5" x2="242" y2="507.5" stroke="#222" stroke-width="1.15"/>
<text x="304.5" y="497.5" font-size="24.5" text-anchor="middle">549</text>
<line x1="256" y1="507.5" x2="353" y2="507.5" stroke="#666" stroke-width="1.15"/>
<text x="438.5" y="497.5" font-size="24.5" text-anchor="middle">231</text>
<line x1="390" y1="507.5" x2="487" y2="507.5" stroke="#222" stroke-width="1.15"/>
<text x="550" y="497.5" font-size="24.5" text-anchor="middle">549</text>
<line x1="501" y1="507.5" x2="598.5" y2="507.5" stroke="#222" stroke-width="1.15"/>
<text x="80.5" y="851.7" font-size="24.2">JQ1</text>
<text x="149.38" y="851.51" font-size="26.4" text-anchor="middle">–</text>
<text x="170.16" y="853.64" font-size="26.6" text-anchor="middle">+</text>
<text x="190.93" y="851.51" font-size="26.4" text-anchor="middle">–</text>
<text x="211.69" y="853.64" font-size="26.6" text-anchor="middle">+</text>
<line x1="145.5" y1="860.5" x2="180" y2="860.5" stroke="#000" stroke-width="2.1"/>
<line x1="186.5" y1="860.5" x2="221" y2="860.5" stroke="#000" stroke-width="2.1"/>
<text x="274" y="851.51" font-size="26.4" text-anchor="middle">–</text>
<text x="294.77" y="853.64" font-size="26.6" text-anchor="middle">+</text>
<text x="315.54" y="851.51" font-size="26.4" text-anchor="middle">–</text>
<text x="336.31" y="853.64" font-size="26.6" text-anchor="middle">+</text>
<line x1="270.12" y1="860.5" x2="304.62" y2="860.5" stroke="#000" stroke-width="2.1"/>
<line x1="311.12" y1="860.5" x2="345.62" y2="860.5" stroke="#000" stroke-width="2.1"/>
<text x="398.62" y="851.51" font-size="26.4" text-anchor="middle">–</text>
<text x="419.39" y="853.64" font-size="26.6" text-anchor="middle">+</text>
<text x="440.17" y="851.51" font-size="26.4" text-anchor="middle">–</text>
<text x="460.94" y="853.64" font-size="26.6" text-anchor="middle">+</text>
<line x1="394.74" y1="860.5" x2="429.24" y2="860.5" stroke="#000" stroke-width="2.1"/>
<line x1="435.74" y1="860.5" x2="470.24" y2="860.5" stroke="#000" stroke-width="2.1"/>
<text x="523.25" y="851.51" font-size="26.4" text-anchor="middle">–</text>
<text x="544.01" y="853.64" font-size="26.6" text-anchor="middle">+</text>
<text x="564.78" y="851.51" font-size="26.4" text-anchor="middle">–</text>
<text x="585.56" y="853.64" font-size="26.6" text-anchor="middle">+</text>
<line x1="519.36" y1="860.5" x2="553.86" y2="860.5" stroke="#000" stroke-width="2.1"/>
<line x1="560.36" y1="860.5" x2="594.86" y2="860.5" stroke="#000" stroke-width="2.1"/>
<text x="170.5" y="881.5" font-size="24.5" text-anchor="end" transform="rotate(-45 170.5 881.5)">Ctr</text>
<text x="213.5" y="882.5" font-size="24.5" text-anchor="end" transform="rotate(-45 213.5 882.5)">Mimic</text>
<text x="295.12" y="881.5" font-size="24.5" text-anchor="end" transform="rotate(-45 295.12 881.5)">Ctr</text>
<text x="338.12" y="882.5" font-size="24.5" text-anchor="end" transform="rotate(-45 338.12 882.5)">Mimic</text>
<text x="419.74" y="881.5" font-size="24.5" text-anchor="end" transform="rotate(-45 419.74 881.5)">Ctr</text>
<text x="462.74" y="882.5" font-size="24.5" text-anchor="end" transform="rotate(-45 462.74 882.5)">Inhibitor</text>
<text x="544.36" y="881.5" font-size="24.5" text-anchor="end" transform="rotate(-45 544.36 881.5)">Ctr</text>
<text x="587.36" y="882.5" font-size="24.5" text-anchor="end" transform="rotate(-45 587.36 882.5)">Inhibitor</text>
<text x="701" y="488" font-size="41" font-weight="bold">e</text>
<rect x="803.53" y="629.37" width="21.9" height="199.33" fill="#4F81BD"/>
<rect x="828.49" y="637.78" width="21.9" height="190.92" fill="#4F81BD"/>
<rect x="853.45" y="725.53" width="21.9" height="103.17" fill="#4F81BD"/>
<rect x="878.41" y="765.6" width="21.9" height="63.11" fill="#4F81BD"/>
<rect x="953.29" y="629.37" width="21.9" height="199.33" fill="#1AAE4F"/>
<rect x="978.25" y="641.39" width="21.9" height="187.31" fill="#1AAE4F"/>
<rect x="1003.21" y="753.17" width="21.9" height="75.53" fill="#1AAE4F"/>
<rect x="1028.17" y="794.64" width="21.9" height="34.06" fill="#1AAE4F"/>
<line x1="802" y1="587.7" x2="802" y2="829.3" stroke="#000" stroke-width="1.55"/>
<line x1="796.6" y1="828.7" x2="802" y2="828.7" stroke="#000" stroke-width="1.6"/>
<text x="787" y="836.98" font-size="24.6" text-anchor="end">0</text>
<line x1="796.6" y1="788.63" x2="802" y2="788.63" stroke="#000" stroke-width="1.6"/>
<text x="787" y="797.13" font-size="24.6" text-anchor="end">20</text>
<line x1="796.6" y1="748.57" x2="802" y2="748.57" stroke="#000" stroke-width="1.6"/>
<text x="787" y="757.28" font-size="24.6" text-anchor="end">40</text>
<line x1="796.6" y1="708.5" x2="802" y2="708.5" stroke="#000" stroke-width="1.6"/>
<text x="787" y="717.43" font-size="24.6" text-anchor="end">60</text>
<line x1="796.6" y1="668.43" x2="802" y2="668.43" stroke="#000" stroke-width="1.6"/>
<text x="787" y="677.58" font-size="24.6" text-anchor="end">80</text>
<line x1="796.6" y1="628.37" x2="802" y2="628.37" stroke="#000" stroke-width="1.6"/>
<text x="787" y="637.73" font-size="24.6" text-anchor="end">100</text>
<line x1="796.6" y1="588.3" x2="802" y2="588.3" stroke="#000" stroke-width="1.6"/>
<text x="787" y="597.88" font-size="24.6" text-anchor="end">120</text>
<line x1="796.6" y1="828.7" x2="1051.6" y2="828.7" stroke="#000" stroke-width="1.8"/>
<line x1="802" y1="828.7" x2="802" y2="834.1" stroke="#000" stroke-width="1.5"/>
<line x1="826.96" y1="828.7" x2="826.96" y2="834.1" stroke="#000" stroke-width="1.5"/>
<line x1="851.92" y1="828.7" x2="851.92" y2="834.1" stroke="#000" stroke-width="1.5"/>
<line x1="876.88" y1="828.7" x2="876.88" y2="834.1" stroke="#000" stroke-width="1.5"/>
<line x1="901.84" y1="828.7" x2="901.84" y2="834.1" stroke="#000" stroke-width="1.5"/>
<line x1="926.8" y1="828.7" x2="926.8" y2="834.1" stroke="#000" stroke-width="1.5"/>
<line x1="951.76" y1="828.7" x2="951.76" y2="834.1" stroke="#000" stroke-width="1.5"/>
<line x1="976.72" y1="828.7" x2="976.72" y2="834.1" stroke="#000" stroke-width="1.5"/>
<line x1="1001.68" y1="828.7" x2="1001.68" y2="834.1" stroke="#000" stroke-width="1.5"/>
<line x1="1026.64" y1="828.7" x2="1026.64" y2="834.1" stroke="#000" stroke-width="1.5"/>
<line x1="1051.6" y1="828.7" x2="1051.6" y2="834.1" stroke="#000" stroke-width="1.5"/>
<rect x="810.59" y="621.55" width="7.79" height="12.03" fill="#C5504D"/>
<polygon points="814.48,622.97 818.58,635.37 810.38,635.37" fill="#9BBB59"/>
<polygon points="814.48,621.06 818.7,627.57 814.48,634.08 810.26,627.57" fill="#8064A2"/>
<line x1="839.44" y1="632.37" x2="839.44" y2="644.59" stroke="#000" stroke-width="1.4"/>
<rect x="835.55" y="627.36" width="7.79" height="12.03" fill="#C5504D"/>
<polygon points="839.44,626.17 843.54,638.57 835.34,638.57" fill="#9BBB59"/>
<polygon points="839.44,638.08 843.66,644.59 839.44,651.1 835.22,644.59" fill="#8064A2"/>
<line x1="864.4" y1="719.12" x2="864.4" y2="732.94" stroke="#000" stroke-width="1.4"/>
<rect x="860.5" y="713.1" width="7.79" height="12.03" fill="#C5504D"/>
<polygon points="864.4,715.32 868.5,727.72 860.3,727.72" fill="#9BBB59"/>
<polygon points="864.4,726.43 868.62,732.94 864.4,739.45 860.18,732.94" fill="#8064A2"/>
<line x1="889.36" y1="761.19" x2="889.36" y2="771.81" stroke="#000" stroke-width="1.4"/>
<rect x="885.47" y="765.79" width="7.79" height="12.03" fill="#C5504D"/>
<polygon points="889.36,760.2 893.46,772.6 885.26,772.6" fill="#9BBB59"/>
<polygon points="889.36,754.68 893.58,761.19 889.36,767.7 885.14,761.19" fill="#8064A2"/>
<rect x="960.35" y="621.55" width="7.79" height="12.03" fill="#C5504D"/>
<polygon points="964.24,622.97 968.34,635.37 960.14,635.37" fill="#9BBB59"/>
<polygon points="964.24,621.06 968.46,627.57 964.24,634.08 960.02,627.57" fill="#8064A2"/>
<line x1="989.2" y1="632.37" x2="989.2" y2="651" stroke="#000" stroke-width="1.4"/>
<rect x="985.31" y="626.36" width="7.79" height="12.03" fill="#C5504D"/>
<polygon points="989.2,634.79 993.3,647.19 985.1,647.19" fill="#9BBB59"/>
<polygon points="989.2,644.49 993.42,651 989.2,657.51 984.98,651" fill="#8064A2"/>
<line x1="1014.16" y1="743.56" x2="1014.16" y2="757.18" stroke="#000" stroke-width="1.4"/>
<rect x="1010.26" y="737.54" width="7.79" height="12.03" fill="#C5504D"/>
<polygon points="1014.16,750.38 1018.26,762.78 1010.06,762.78" fill="#9BBB59"/>
<polygon points="1014.16,750.67 1018.38,757.18 1014.16,763.69 1009.94,757.18" fill="#8064A2"/>
<line x1="1039.12" y1="790.04" x2="1039.12" y2="799.25" stroke="#000" stroke-width="1.4"/>
<rect x="1035.22" y="787.03" width="7.79" height="12.03" fill="#C5504D"/>
<polygon points="1039.12,793.05 1043.22,805.45 1035.02,805.45" fill="#9BBB59"/>
<polygon points="1039.12,783.53 1043.34,790.04 1039.12,796.55 1034.9,790.04" fill="#8064A2"/>
<text x="721" y="708" font-size="25" text-anchor="middle" transform="rotate(-90 721 708)">Cell growth (%)</text>
<text x="855" y="542" font-size="24.5" text-anchor="middle">231</text>
<line x1="806" y1="550.3" x2="903" y2="550.3" stroke="#2a2a2a" stroke-width="1.15"/>
<text x="993" y="542" font-size="24.5" text-anchor="middle">549</text>
<line x1="945" y1="550.8" x2="1042" y2="550.8" stroke="#555" stroke-width="1.15"/>
<polyline points="862.2,666.6 862.2,629.9 893.5,629.9 893.5,737.5" fill="none" stroke="#000" stroke-width="2.2" stroke-linejoin="miter"/>
<polyline points="1018.1,667.3 1018.1,630.6 1049,630.6 1049,739.4" fill="none" stroke="#000" stroke-width="2.2" stroke-linejoin="miter"/>
<text x="877.8" y="624.7" font-size="23" text-anchor="middle" font-weight="bold">* *</text>
<text x="1031.4" y="623.4" font-size="23" text-anchor="middle" font-weight="bold">* *</text>
<text x="744.5" y="862.4" font-size="24.2">JQ1</text>
<text x="724.5" y="894.2" font-size="25">Mimic</text>
<text x="814.48" y="862.21" font-size="26.4" text-anchor="middle">–</text>
<text x="839.44" y="862.21" font-size="26.4" text-anchor="middle">–</text>
<text x="864.4" y="864.34" font-size="26.6" text-anchor="middle">+</text>
<text x="889.36" y="864.34" font-size="26.6" text-anchor="middle">+</text>
<text x="814.48" y="893.91" font-size="26.4" text-anchor="middle">–</text>
<text x="839.44" y="896.04" font-size="26.6" text-anchor="middle">+</text>
<text x="864.4" y="893.91" font-size="26.4" text-anchor="middle">–</text>
<text x="889.36" y="896.04" font-size="26.6" text-anchor="middle">+</text>
<text x="964.24" y="862.21" font-size="26.4" text-anchor="middle">–</text>
<text x="989.2" y="862.21" font-size="26.4" text-anchor="middle">–</text>
<text x="1014.16" y="864.34" font-size="26.6" text-anchor="middle">+</text>
<text x="1039.12" y="864.34" font-size="26.6" text-anchor="middle">+</text>
<text x="964.24" y="893.91" font-size="26.4" text-anchor="middle">–</text>
<text x="989.2" y="896.04" font-size="26.6" text-anchor="middle">+</text>
<text x="1014.16" y="893.91" font-size="26.4" text-anchor="middle">–</text>
<text x="1039.12" y="896.04" font-size="26.6" text-anchor="middle">+</text>
<text x="1232" y="488" font-size="41" font-weight="bold">f</text>
<rect x="1330.69" y="619" width="24.2" height="210" fill="#29ABE2"/>
<rect x="1358.27" y="614.8" width="24.2" height="214.2" fill="#29ABE2"/>
<rect x="1385.85" y="717.7" width="24.2" height="111.3" fill="#29ABE2"/>
<rect x="1413.43" y="672.97" width="24.2" height="156.03" fill="#29ABE2"/>
<rect x="1496.17" y="619" width="24.2" height="210" fill="#6F3996"/>
<rect x="1523.75" y="605.35" width="24.2" height="223.65" fill="#6F3996"/>
<rect x="1551.33" y="741.85" width="24.2" height="87.15" fill="#6F3996"/>
<rect x="1578.91" y="705.1" width="24.2" height="123.9" fill="#6F3996"/>
<line x1="1329.4" y1="576.4" x2="1329.4" y2="829.6" stroke="#000" stroke-width="1.55"/>
<line x1="1324" y1="829" x2="1329.4" y2="829" stroke="#000" stroke-width="1.6"/>
<text x="1313" y="837.28" font-size="24.6" text-anchor="end">0</text>
<line x1="1324" y1="787" x2="1329.4" y2="787" stroke="#000" stroke-width="1.6"/>
<text x="1313" y="795.5" font-size="24.6" text-anchor="end">20</text>
<line x1="1324" y1="745" x2="1329.4" y2="745" stroke="#000" stroke-width="1.6"/>
<text x="1313" y="753.72" font-size="24.6" text-anchor="end">40</text>
<line x1="1324" y1="703" x2="1329.4" y2="703" stroke="#000" stroke-width="1.6"/>
<text x="1313" y="711.93" font-size="24.6" text-anchor="end">60</text>
<line x1="1324" y1="661" x2="1329.4" y2="661" stroke="#000" stroke-width="1.6"/>
<text x="1313" y="670.15" font-size="24.6" text-anchor="end">80</text>
<line x1="1324" y1="619" x2="1329.4" y2="619" stroke="#000" stroke-width="1.6"/>
<text x="1313" y="628.37" font-size="24.6" text-anchor="end">100</text>
<line x1="1324" y1="577" x2="1329.4" y2="577" stroke="#000" stroke-width="1.6"/>
<text x="1313" y="586.58" font-size="24.6" text-anchor="end">120</text>
<line x1="1324" y1="829" x2="1605.2" y2="829" stroke="#000" stroke-width="1.8"/>
<line x1="1329.4" y1="829" x2="1329.4" y2="834.4" stroke="#000" stroke-width="1.5"/>
<line x1="1356.98" y1="829" x2="1356.98" y2="834.4" stroke="#000" stroke-width="1.5"/>
<line x1="1384.56" y1="829" x2="1384.56" y2="834.4" stroke="#000" stroke-width="1.5"/>
<line x1="1412.14" y1="829" x2="1412.14" y2="834.4" stroke="#000" stroke-width="1.5"/>
<line x1="1439.72" y1="829" x2="1439.72" y2="834.4" stroke="#000" stroke-width="1.5"/>
<line x1="1467.3" y1="829" x2="1467.3" y2="834.4" stroke="#000" stroke-width="1.5"/>
<line x1="1494.88" y1="829" x2="1494.88" y2="834.4" stroke="#000" stroke-width="1.5"/>
<line x1="1522.46" y1="829" x2="1522.46" y2="834.4" stroke="#000" stroke-width="1.5"/>
<line x1="1550.04" y1="829" x2="1550.04" y2="834.4" stroke="#000" stroke-width="1.5"/>
<line x1="1577.62" y1="829" x2="1577.62" y2="834.4" stroke="#000" stroke-width="1.5"/>
<line x1="1605.2" y1="829" x2="1605.2" y2="834.4" stroke="#000" stroke-width="1.5"/>
<line x1="1342.79" y1="617.95" x2="1342.79" y2="622.15" stroke="#000" stroke-width="1.4"/>
<rect x="1337.61" y="612.03" width="10.36" height="11.83" fill="#C5504D"/>
<polygon points="1342.79,616.05 1348.24,628.25 1337.34,628.25" fill="#9BBB59"/>
<polygon points="1342.79,613.64 1348.4,620.05 1342.79,626.45 1337.18,620.05" fill="#8064A2"/>
<line x1="1370.37" y1="607.87" x2="1370.37" y2="623.2" stroke="#000" stroke-width="1.4"/>
<rect x="1365.19" y="601.95" width="10.36" height="11.83" fill="#C5504D"/>
<polygon points="1370.37,608.91 1375.82,621.11 1364.92,621.11" fill="#9BBB59"/>
<polygon points="1370.37,616.8 1375.98,623.2 1370.37,629.61 1364.76,623.2" fill="#8064A2"/>
<line x1="1397.95" y1="705.31" x2="1397.95" y2="722.32" stroke="#000" stroke-width="1.4"/>
<rect x="1392.77" y="699.39" width="10.36" height="11.83" fill="#C5504D"/>
<polygon points="1397.95,716.22 1403.4,728.42 1392.5,728.42" fill="#9BBB59"/>
<polygon points="1397.95,715.92 1403.56,722.32 1397.95,728.73 1392.34,722.32" fill="#8064A2"/>
<line x1="1425.53" y1="666.88" x2="1425.53" y2="680.53" stroke="#000" stroke-width="1.4"/>
<rect x="1420.35" y="660.96" width="10.36" height="11.83" fill="#C5504D"/>
<polygon points="1425.53,666.66 1430.98,678.86 1420.08,678.86" fill="#9BBB59"/>
<polygon points="1425.53,674.12 1431.14,680.53 1425.53,686.93 1419.92,680.53" fill="#8064A2"/>
<line x1="1508.27" y1="617.95" x2="1508.27" y2="622.15" stroke="#000" stroke-width="1.4"/>
<rect x="1503.09" y="612.03" width="10.36" height="11.83" fill="#C5504D"/>
<polygon points="1508.27,616.05 1513.72,628.25 1502.82,628.25" fill="#9BBB59"/>
<polygon points="1508.27,613.64 1513.88,620.05 1508.27,626.45 1502.66,620.05" fill="#8064A2"/>
<line x1="1535.85" y1="599.26" x2="1535.85" y2="613.33" stroke="#000" stroke-width="1.4"/>
<rect x="1530.67" y="607.41" width="10.36" height="11.83" fill="#C5504D"/>
<polygon points="1535.85,600.72 1541.3,612.92 1530.4,612.92" fill="#9BBB59"/>
<polygon points="1535.85,592.86 1541.46,599.26 1535.85,605.66 1530.24,599.26" fill="#8064A2"/>
<line x1="1563.43" y1="734.92" x2="1563.43" y2="743.74" stroke="#000" stroke-width="1.4"/>
<rect x="1558.25" y="729" width="10.36" height="11.83" fill="#C5504D"/>
<polygon points="1563.43,737.64 1568.88,749.84 1557.98,749.84" fill="#9BBB59"/>
<polygon points="1563.43,737.34 1569.04,743.74 1563.43,750.14 1557.82,743.74" fill="#8064A2"/>
<line x1="1591.01" y1="695.23" x2="1591.01" y2="709.3" stroke="#000" stroke-width="1.4"/>
<rect x="1585.83" y="689.31" width="10.36" height="11.83" fill="#C5504D"/>
<polygon points="1591.01,700.68 1596.46,712.88 1585.56,712.88" fill="#9BBB59"/>
<polygon points="1591.01,702.89 1596.62,709.3 1591.01,715.7 1585.4,709.3" fill="#8064A2"/>
<text x="1247" y="703" font-size="25" text-anchor="middle" transform="rotate(-90 1247 703)">Cell growth (%)</text>
<text x="1395" y="553" font-size="24.5" text-anchor="middle">231</text>
<line x1="1346" y1="561.3" x2="1443.5" y2="561.3" stroke="#2a2a2a" stroke-width="1.15"/>
<text x="1553" y="553" font-size="24.5" text-anchor="middle">549</text>
<line x1="1509" y1="561.8" x2="1606" y2="561.8" stroke="#555" stroke-width="1.15"/>
<polyline points="1393.2,671 1393.2,588.8 1423.1,588.8 1423.1,626.6" fill="none" stroke="#000" stroke-width="2.2" stroke-linejoin="miter"/>
<polyline points="1560.6,669.8 1560.6,585.8 1591.9,585.8 1591.9,622.7" fill="none" stroke="#000" stroke-width="2.2" stroke-linejoin="miter"/>
<text x="1407.85" y="586.35" font-size="21.5" text-anchor="middle" font-weight="bold" letter-spacing="0.5">* *</text>
<text x="1577.45" y="584.25" font-size="21.5" text-anchor="middle" font-weight="bold" letter-spacing="0.5">* *</text>
<text x="1275" y="863.2" font-size="24.2">JQ1</text>
<text x="1232" y="894.5" font-size="25">Inhibitor</text>
<text x="1342.79" y="862.81" font-size="26.4" text-anchor="middle">–</text>
<text x="1370.37" y="862.81" font-size="26.4" text-anchor="middle">–</text>
<text x="1397.95" y="864.94" font-size="26.6" text-anchor="middle">+</text>
<text x="1425.53" y="864.94" font-size="26.6" text-anchor="middle">+</text>
<text x="1342.79" y="894.21" font-size="26.4" text-anchor="middle">–</text>
<text x="1370.37" y="896.34" font-size="26.6" text-anchor="middle">+</text>
<text x="1397.95" y="894.21" font-size="26.4" text-anchor="middle">–</text>
<text x="1425.53" y="896.34" font-size="26.6" text-anchor="middle">+</text>
<text x="1508.27" y="862.81" font-size="26.4" text-anchor="middle">–</text>
<text x="1535.85" y="862.81" font-size="26.4" text-anchor="middle">–</text>
<text x="1563.43" y="864.94" font-size="26.6" text-anchor="middle">+</text>
<text x="1591.01" y="864.94" font-size="26.6" text-anchor="middle">+</text>
<text x="1508.27" y="894.21" font-size="26.4" text-anchor="middle">–</text>
<text x="1535.85" y="896.34" font-size="26.6" text-anchor="middle">+</text>
<text x="1563.43" y="894.21" font-size="26.4" text-anchor="middle">–</text>
<text x="1591.01" y="896.34" font-size="26.6" text-anchor="middle">+</text>
<text x="-1" y="997.5" font-size="41" font-weight="bold">g</text>
<rect x="158.65" y="1314.86" width="22.5" height="89.14" fill="#808080"/>
<rect x="183.65" y="1261.57" width="22.5" height="142.43" fill="#FDBA12"/>
<rect x="208.65" y="1240.26" width="22.5" height="163.74" fill="#92CA50"/>
<rect x="233.65" y="1116.24" width="22.5" height="287.76" fill="#29ABE2"/>
<rect x="258.65" y="1293.55" width="22.5" height="110.45" fill="#4F81BD"/>
<rect x="333.65" y="1329.4" width="22.5" height="74.6" fill="#808080"/>
<rect x="358.65" y="1317.77" width="22.5" height="86.23" fill="#FDBA12"/>
<rect x="383.65" y="1301.88" width="22.5" height="102.12" fill="#92CA50"/>
<rect x="408.65" y="1267.39" width="22.5" height="136.61" fill="#29ABE2"/>
<rect x="433.65" y="1340.44" width="22.5" height="63.56" fill="#4F81BD"/>
<line x1="156.7" y1="1054.6" x2="156.7" y2="1404.6" stroke="#000" stroke-width="1.55"/>
<line x1="151.3" y1="1404" x2="156.7" y2="1404" stroke="#000" stroke-width="1.6"/>
<text x="138.5" y="1412.28" font-size="24.6" text-anchor="end">0</text>
<line x1="151.3" y1="1365.24" x2="156.7" y2="1365.24" stroke="#000" stroke-width="1.6"/>
<text x="138.5" y="1373.67" font-size="24.6" text-anchor="end">0.2</text>
<line x1="151.3" y1="1326.49" x2="156.7" y2="1326.49" stroke="#000" stroke-width="1.6"/>
<text x="138.5" y="1335.06" font-size="24.6" text-anchor="end">0.4</text>
<line x1="151.3" y1="1287.73" x2="156.7" y2="1287.73" stroke="#000" stroke-width="1.6"/>
<text x="138.5" y="1296.45" font-size="24.6" text-anchor="end">0.6</text>
<line x1="151.3" y1="1248.98" x2="156.7" y2="1248.98" stroke="#000" stroke-width="1.6"/>
<text x="138.5" y="1257.84" font-size="24.6" text-anchor="end">0.8</text>
<line x1="151.3" y1="1210.22" x2="156.7" y2="1210.22" stroke="#000" stroke-width="1.6"/>
<text x="138.5" y="1219.23" font-size="24.6" text-anchor="end">1.0</text>
<line x1="151.3" y1="1171.47" x2="156.7" y2="1171.47" stroke="#000" stroke-width="1.6"/>
<text x="138.5" y="1180.62" font-size="24.6" text-anchor="end">1.2</text>
<line x1="151.3" y1="1132.71" x2="156.7" y2="1132.71" stroke="#000" stroke-width="1.6"/>
<text x="138.5" y="1142" font-size="24.6" text-anchor="end">1.4</text>
<line x1="151.3" y1="1093.96" x2="156.7" y2="1093.96" stroke="#000" stroke-width="1.6"/>
<text x="138.5" y="1103.39" font-size="24.6" text-anchor="end">1.6</text>
<line x1="151.3" y1="1055.2" x2="156.7" y2="1055.2" stroke="#000" stroke-width="1.6"/>
<text x="138.5" y="1064.78" font-size="24.6" text-anchor="end">1.8</text>
<line x1="151.3" y1="1404" x2="456.6" y2="1404" stroke="#000" stroke-width="1.8"/>
<line x1="156.7" y1="1404" x2="156.7" y2="1409.4" stroke="#000" stroke-width="1.5"/>
<line x1="181.7" y1="1404" x2="181.7" y2="1409.4" stroke="#000" stroke-width="1.5"/>
<line x1="206.7" y1="1404" x2="206.7" y2="1409.4" stroke="#000" stroke-width="1.5"/>
<line x1="231.7" y1="1404" x2="231.7" y2="1409.4" stroke="#000" stroke-width="1.5"/>
<line x1="256.7" y1="1404" x2="256.7" y2="1409.4" stroke="#000" stroke-width="1.5"/>
<line x1="281.7" y1="1404" x2="281.7" y2="1409.4" stroke="#000" stroke-width="1.5"/>
<line x1="306.7" y1="1404" x2="306.7" y2="1409.4" stroke="#000" stroke-width="1.5"/>
<line x1="331.7" y1="1404" x2="331.7" y2="1409.4" stroke="#000" stroke-width="1.5"/>
<line x1="356.7" y1="1404" x2="356.7" y2="1409.4" stroke="#000" stroke-width="1.5"/>
<line x1="381.7" y1="1404" x2="381.7" y2="1409.4" stroke="#000" stroke-width="1.5"/>
<line x1="406.7" y1="1404" x2="406.7" y2="1409.4" stroke="#000" stroke-width="1.5"/>
<line x1="431.7" y1="1404" x2="431.7" y2="1409.4" stroke="#000" stroke-width="1.5"/>
<line x1="456.7" y1="1404" x2="456.7" y2="1409.4" stroke="#000" stroke-width="1.5"/>
<line x1="169.9" y1="1308.86" x2="169.9" y2="1318.35" stroke="#000" stroke-width="1.4"/>
<rect x="164.39" y="1310.83" width="11.02" height="15.04" fill="#C5504D"/>
<polygon points="169.9,1310.02 175.7,1325.52 164.1,1325.52" fill="#9BBB59"/>
<polygon points="169.9,1300.72 175.87,1308.86 169.9,1316.99 163.93,1308.86" fill="#8064A2"/>
<line x1="194.9" y1="1239.87" x2="194.9" y2="1277.85" stroke="#000" stroke-width="1.4"/>
<rect x="189.39" y="1270.33" width="11.02" height="15.04" fill="#C5504D"/>
<polygon points="194.9,1260.61 200.7,1276.11 189.1,1276.11" fill="#9BBB59"/>
<polygon points="194.9,1231.73 200.87,1239.87 194.9,1248.01 188.93,1239.87" fill="#8064A2"/>
<line x1="219.9" y1="1225.14" x2="219.9" y2="1256.73" stroke="#000" stroke-width="1.4"/>
<rect x="214.39" y="1249.21" width="11.02" height="15.04" fill="#C5504D"/>
<polygon points="219.9,1235.03 225.7,1250.53 214.1,1250.53" fill="#9BBB59"/>
<polygon points="219.9,1217.01 225.87,1225.14 219.9,1233.28 213.93,1225.14" fill="#8064A2"/>
<line x1="244.9" y1="1090.66" x2="244.9" y2="1133.87" stroke="#000" stroke-width="1.4"/>
<rect x="239.39" y="1126.36" width="11.02" height="15.04" fill="#C5504D"/>
<polygon points="244.9,1113.72 250.7,1129.22 239.1,1129.22" fill="#9BBB59"/>
<polygon points="244.9,1082.52 250.87,1090.66 244.9,1098.8 238.93,1090.66" fill="#8064A2"/>
<line x1="269.9" y1="1285.99" x2="269.9" y2="1304.2" stroke="#000" stroke-width="1.4"/>
<rect x="264.39" y="1296.69" width="11.02" height="15.04" fill="#C5504D"/>
<polygon points="269.9,1288.7 275.7,1304.2 264.1,1304.2" fill="#9BBB59"/>
<polygon points="269.9,1277.85 275.87,1285.99 269.9,1294.13 263.93,1285.99" fill="#8064A2"/>
<line x1="344.9" y1="1323.58" x2="344.9" y2="1336.57" stroke="#000" stroke-width="1.4"/>
<rect x="339.39" y="1329.05" width="11.02" height="15.04" fill="#C5504D"/>
<polygon points="344.9,1324.55 350.7,1340.05 339.1,1340.05" fill="#9BBB59"/>
<polygon points="344.9,1315.44 350.87,1323.58 344.9,1331.72 338.93,1323.58" fill="#8064A2"/>
<line x1="369.9" y1="1308.86" x2="369.9" y2="1325.33" stroke="#000" stroke-width="1.4"/>
<rect x="364.39" y="1317.81" width="11.02" height="15.04" fill="#C5504D"/>
<polygon points="369.9,1314.09 375.7,1329.59 364.1,1329.59" fill="#9BBB59"/>
<polygon points="369.9,1300.72 375.87,1308.86 369.9,1316.99 363.93,1308.86" fill="#8064A2"/>
<line x1="394.9" y1="1289.48" x2="394.9" y2="1313.99" stroke="#000" stroke-width="1.4"/>
<rect x="389.39" y="1306.47" width="11.02" height="15.04" fill="#C5504D"/>
<polygon points="394.9,1299.94 400.7,1315.44 389.1,1315.44" fill="#9BBB59"/>
<polygon points="394.9,1281.34 400.87,1289.48 394.9,1297.61 388.93,1289.48" fill="#8064A2"/>
<line x1="419.9" y1="1253.24" x2="419.9" y2="1282.4" stroke="#000" stroke-width="1.4"/>
<rect x="414.39" y="1274.89" width="11.02" height="15.04" fill="#C5504D"/>
<polygon points="419.9,1263.12 425.7,1278.62 414.1,1278.62" fill="#9BBB59"/>
<polygon points="419.9,1245.1 425.87,1253.24 419.9,1261.38 413.93,1253.24" fill="#8064A2"/>
<line x1="444.9" y1="1335.79" x2="444.9" y2="1343.54" stroke="#000" stroke-width="1.4"/>
<rect x="439.39" y="1335.44" width="11.02" height="15.04" fill="#C5504D"/>
<polygon points="444.9,1335.79 450.7,1351.29 439.1,1351.29" fill="#9BBB59"/>
<polygon points="444.9,1327.65 450.87,1335.79 444.9,1343.93 438.93,1335.79" fill="#8064A2"/>
<text x="80" y="1230" font-size="25" text-anchor="middle" transform="rotate(-90 80 1230)">Luciferase activity (folds)</text>
<text x="285.5" y="1072" font-size="24.5" text-anchor="middle">HEK293</text>
<rect x="365" y="1098" width="31" height="10" fill="#808080"/>
<text x="408" y="1109.7" font-size="22.5">Ctr</text>
<rect x="365" y="1123" width="31" height="10" fill="#FDBA12"/>
<text x="408" y="1136.8" font-size="22.5">FOXD3</text>
<rect x="365" y="1148" width="31" height="10" fill="#92CA50"/>
<text x="408" y="1160.2" font-size="22.5">B4</text>
<rect x="365" y="1171.7" width="31" height="10" fill="#29ABE2"/>
<text x="408" y="1183.5" font-size="22.5">FOXD3+B4</text>
<rect x="365" y="1196" width="31" height="10" fill="#1B75BC"/>
<text x="408" y="1208.5" font-size="22.5">FD3+B4+JQ1</text>
<line x1="164" y1="1418.5" x2="261.5" y2="1418.5" stroke="#222" stroke-width="1"/>
<line x1="346" y1="1418.5" x2="443" y2="1418.5" stroke="#222" stroke-width="1"/>
<text x="214.5" y="1450" font-size="24.5" text-anchor="middle">WT Luc</text>
<text x="400" y="1450" font-size="24.5" text-anchor="middle">Deleted Luc</text>
<text x="617" y="998" font-size="41" font-weight="bold">h</text>
<rect x="721.5" y="1162.2" width="18.8" height="239.5" fill="#808080"/>
<rect x="742.1" y="1313.8" width="18.8" height="87.9" fill="#4F81BD"/>
<rect x="762.7" y="1162.2" width="18.8" height="239.5" fill="#808080"/>
<rect x="783.3" y="1293.45" width="18.8" height="108.25" fill="#92CA50"/>
<rect x="803.9" y="1354.76" width="18.8" height="46.94" fill="#1AAE4F"/>
<rect x="824.5" y="1162.2" width="18.8" height="239.5" fill="#808080"/>
<rect x="845.1" y="1281.95" width="18.8" height="119.75" fill="#FDBA12"/>
<rect x="865.7" y="1335.36" width="18.8" height="66.34" fill="#ED2024"/>
<rect x="927.5" y="1162.2" width="18.8" height="239.5" fill="#808080"/>
<rect x="948.1" y="1340.15" width="18.8" height="61.55" fill="#4F81BD"/>
<rect x="968.7" y="1162.2" width="18.8" height="239.5" fill="#808080"/>
<rect x="989.3" y="1301.83" width="18.8" height="99.87" fill="#92CA50"/>
<rect x="1009.9" y="1376.07" width="18.8" height="25.63" fill="#1AAE4F"/>
<rect x="1030.5" y="1162.2" width="18.8" height="239.5" fill="#808080"/>
<rect x="1051.1" y="1311.41" width="18.8" height="90.29" fill="#FDBA12"/>
<rect x="1071.7" y="1324.58" width="18.8" height="77.12" fill="#ED2024"/>
<line x1="720.3" y1="1113.7" x2="720.3" y2="1402.3" stroke="#000" stroke-width="1.55"/>
<line x1="714.9" y1="1401.7" x2="720.3" y2="1401.7" stroke="#000" stroke-width="1.6"/>
<text x="704.5" y="1409.98" font-size="24.6" text-anchor="end">0</text>
<line x1="714.9" y1="1353.8" x2="720.3" y2="1353.8" stroke="#000" stroke-width="1.6"/>
<text x="704.5" y="1362.3" font-size="24.6" text-anchor="end">20</text>
<line x1="714.9" y1="1305.9" x2="720.3" y2="1305.9" stroke="#000" stroke-width="1.6"/>
<text x="704.5" y="1314.62" font-size="24.6" text-anchor="end">40</text>
<line x1="714.9" y1="1258" x2="720.3" y2="1258" stroke="#000" stroke-width="1.6"/>
<text x="704.5" y="1266.93" font-size="24.6" text-anchor="end">60</text>
<line x1="714.9" y1="1210.1" x2="720.3" y2="1210.1" stroke="#000" stroke-width="1.6"/>
<text x="704.5" y="1219.25" font-size="24.6" text-anchor="end">80</text>
<line x1="714.9" y1="1162.2" x2="720.3" y2="1162.2" stroke="#000" stroke-width="1.6"/>
<text x="704.5" y="1171.57" font-size="24.6" text-anchor="end">100</text>
<line x1="714.9" y1="1114.3" x2="720.3" y2="1114.3" stroke="#000" stroke-width="1.6"/>
<text x="704.5" y="1123.88" font-size="24.6" text-anchor="end">120</text>
<line x1="714.9" y1="1401.7" x2="1091.1" y2="1401.7" stroke="#000" stroke-width="1.8"/>
<line x1="720.3" y1="1401.7" x2="720.3" y2="1407.1" stroke="#000" stroke-width="1.5"/>
<line x1="740.9" y1="1401.7" x2="740.9" y2="1407.1" stroke="#000" stroke-width="1.5"/>
<line x1="761.5" y1="1401.7" x2="761.5" y2="1407.1" stroke="#000" stroke-width="1.5"/>
<line x1="782.1" y1="1401.7" x2="782.1" y2="1407.1" stroke="#000" stroke-width="1.5"/>
<line x1="802.7" y1="1401.7" x2="802.7" y2="1407.1" stroke="#000" stroke-width="1.5"/>
<line x1="823.3" y1="1401.7" x2="823.3" y2="1407.1" stroke="#000" stroke-width="1.5"/>
<line x1="843.9" y1="1401.7" x2="843.9" y2="1407.1" stroke="#000" stroke-width="1.5"/>
<line x1="864.5" y1="1401.7" x2="864.5" y2="1407.1" stroke="#000" stroke-width="1.5"/>
<line x1="885.1" y1="1401.7" x2="885.1" y2="1407.1" stroke="#000" stroke-width="1.5"/>
<line x1="905.7" y1="1401.7" x2="905.7" y2="1407.1" stroke="#000" stroke-width="1.5"/>
<line x1="926.3" y1="1401.7" x2="926.3" y2="1407.1" stroke="#000" stroke-width="1.5"/>
<line x1="946.9" y1="1401.7" x2="946.9" y2="1407.1" stroke="#000" stroke-width="1.5"/>
<line x1="967.5" y1="1401.7" x2="967.5" y2="1407.1" stroke="#000" stroke-width="1.5"/>
<line x1="988.1" y1="1401.7" x2="988.1" y2="1407.1" stroke="#000" stroke-width="1.5"/>
<line x1="1008.7" y1="1401.7" x2="1008.7" y2="1407.1" stroke="#000" stroke-width="1.5"/>
<line x1="1029.3" y1="1401.7" x2="1029.3" y2="1407.1" stroke="#000" stroke-width="1.5"/>
<line x1="1049.9" y1="1401.7" x2="1049.9" y2="1407.1" stroke="#000" stroke-width="1.5"/>
<line x1="1070.5" y1="1401.7" x2="1070.5" y2="1407.1" stroke="#000" stroke-width="1.5"/>
<line x1="1091.1" y1="1401.7" x2="1091.1" y2="1407.1" stroke="#000" stroke-width="1.5"/>
<line x1="751.5" y1="1304.94" x2="751.5" y2="1321.95" stroke="#000" stroke-width="1.4"/>
<rect x="746.89" y="1316.17" width="9.21" height="11.54" fill="#C5504D"/>
<polygon points="751.5,1310.49 756.35,1322.39 746.65,1322.39" fill="#9BBB59"/>
<polygon points="751.5,1298.69 756.5,1304.94 751.5,1311.19 746.5,1304.94" fill="#8064A2"/>
<line x1="792.7" y1="1286.74" x2="792.7" y2="1301.11" stroke="#000" stroke-width="1.4"/>
<rect x="788.09" y="1295.34" width="9.21" height="11.54" fill="#C5504D"/>
<polygon points="792.7,1289.89 797.55,1301.79 787.85,1301.79" fill="#9BBB59"/>
<polygon points="792.7,1280.49 797.7,1286.74 792.7,1292.99 787.7,1286.74" fill="#8064A2"/>
<line x1="813.3" y1="1352.12" x2="813.3" y2="1357.39" stroke="#000" stroke-width="1.4"/>
<rect x="808.69" y="1351.62" width="9.21" height="11.54" fill="#C5504D"/>
<polygon points="813.3,1350.72 818.15,1362.62 808.45,1362.62" fill="#9BBB59"/>
<polygon points="813.3,1345.88 818.3,1352.12 813.3,1358.37 808.3,1352.12" fill="#8064A2"/>
<line x1="854.5" y1="1270.45" x2="854.5" y2="1292.01" stroke="#000" stroke-width="1.4"/>
<rect x="849.89" y="1286.24" width="9.21" height="11.54" fill="#C5504D"/>
<polygon points="854.5,1277.2 859.35,1289.1 849.65,1289.1" fill="#9BBB59"/>
<polygon points="854.5,1264.21 859.5,1270.45 854.5,1276.7 849.5,1270.45" fill="#8064A2"/>
<line x1="875.1" y1="1331.05" x2="875.1" y2="1340.39" stroke="#000" stroke-width="1.4"/>
<rect x="870.49" y="1334.62" width="9.21" height="11.54" fill="#C5504D"/>
<polygon points="875.1,1329.89 879.95,1341.79 870.25,1341.79" fill="#9BBB59"/>
<polygon points="875.1,1324.8 880.1,1331.05 875.1,1337.3 870.1,1331.05" fill="#8064A2"/>
<line x1="957.5" y1="1335.6" x2="957.5" y2="1343.74" stroke="#000" stroke-width="1.4"/>
<rect x="952.89" y="1337.97" width="9.21" height="11.54" fill="#C5504D"/>
<polygon points="957.5,1335.16 962.35,1347.06 952.65,1347.06" fill="#9BBB59"/>
<polygon points="957.5,1329.35 962.5,1335.6 957.5,1341.85 952.5,1335.6" fill="#8064A2"/>
<line x1="998.7" y1="1295.84" x2="998.7" y2="1308.53" stroke="#000" stroke-width="1.4"/>
<rect x="994.09" y="1302.76" width="9.21" height="11.54" fill="#C5504D"/>
<polygon points="998.7,1298.99 1003.55,1310.89 993.85,1310.89" fill="#9BBB59"/>
<polygon points="998.7,1289.59 1003.7,1295.84 998.7,1302.09 993.7,1295.84" fill="#8064A2"/>
<line x1="1019.3" y1="1373.92" x2="1019.3" y2="1378.23" stroke="#000" stroke-width="1.4"/>
<rect x="1014.69" y="1372.46" width="9.21" height="11.54" fill="#C5504D"/>
<polygon points="1019.3,1371.56 1024.15,1383.46 1014.45,1383.46" fill="#9BBB59"/>
<polygon points="1019.3,1367.67 1024.3,1373.92 1019.3,1380.17 1014.3,1373.92" fill="#8064A2"/>
<line x1="1060.5" y1="1305.66" x2="1060.5" y2="1316.44" stroke="#000" stroke-width="1.4"/>
<rect x="1055.89" y="1310.67" width="9.21" height="11.54" fill="#C5504D"/>
<polygon points="1060.5,1309.05 1065.35,1320.95 1055.65,1320.95" fill="#9BBB59"/>
<polygon points="1060.5,1299.41 1065.5,1305.66 1060.5,1311.91 1055.5,1305.66" fill="#8064A2"/>
<line x1="1081.1" y1="1319.31" x2="1081.1" y2="1329.61" stroke="#000" stroke-width="1.4"/>
<rect x="1076.49" y="1323.84" width="9.21" height="11.54" fill="#C5504D"/>
<polygon points="1081.1,1322.46 1085.95,1334.36 1076.25,1334.36" fill="#9BBB59"/>
<polygon points="1081.1,1313.06 1086.1,1319.31 1081.1,1325.56 1076.1,1319.31" fill="#8064A2"/>
<line x1="730.9" y1="1160.28" x2="730.9" y2="1163.88" stroke="#000" stroke-width="1.4"/>
<rect x="726.29" y="1154.51" width="9.21" height="11.54" fill="#C5504D"/>
<polygon points="730.9,1157.93 735.75,1169.83 726.05,1169.83" fill="#9BBB59"/>
<polygon points="730.9,1155.95 735.9,1162.2 730.9,1168.45 725.9,1162.2" fill="#8064A2"/>
<line x1="772.1" y1="1160.28" x2="772.1" y2="1163.88" stroke="#000" stroke-width="1.4"/>
<rect x="767.49" y="1154.51" width="9.21" height="11.54" fill="#C5504D"/>
<polygon points="772.1,1157.93 776.95,1169.83 767.25,1169.83" fill="#9BBB59"/>
<polygon points="772.1,1155.95 777.1,1162.2 772.1,1168.45 767.1,1162.2" fill="#8064A2"/>
<line x1="833.9" y1="1160.28" x2="833.9" y2="1163.88" stroke="#000" stroke-width="1.4"/>
<rect x="829.29" y="1154.51" width="9.21" height="11.54" fill="#C5504D"/>
<polygon points="833.9,1157.93 838.75,1169.83 829.05,1169.83" fill="#9BBB59"/>
<polygon points="833.9,1155.95 838.9,1162.2 833.9,1168.45 828.9,1162.2" fill="#8064A2"/>
<line x1="936.9" y1="1160.28" x2="936.9" y2="1163.88" stroke="#000" stroke-width="1.4"/>
<rect x="932.29" y="1154.51" width="9.21" height="11.54" fill="#C5504D"/>
<polygon points="936.9,1157.93 941.75,1169.83 932.05,1169.83" fill="#9BBB59"/>
<polygon points="936.9,1155.95 941.9,1162.2 936.9,1168.45 931.9,1162.2" fill="#8064A2"/>
<line x1="978.1" y1="1160.28" x2="978.1" y2="1163.88" stroke="#000" stroke-width="1.4"/>
<rect x="973.49" y="1154.51" width="9.21" height="11.54" fill="#C5504D"/>
<polygon points="978.1,1157.93 982.95,1169.83 973.25,1169.83" fill="#9BBB59"/>
<polygon points="978.1,1155.95 983.1,1162.2 978.1,1168.45 973.1,1162.2" fill="#8064A2"/>
<line x1="1039.9" y1="1160.28" x2="1039.9" y2="1163.88" stroke="#000" stroke-width="1.4"/>
<rect x="1035.29" y="1154.51" width="9.21" height="11.54" fill="#C5504D"/>
<polygon points="1039.9,1157.93 1044.75,1169.83 1035.05,1169.83" fill="#9BBB59"/>
<polygon points="1039.9,1155.95 1044.9,1162.2 1039.9,1168.45 1034.9,1162.2" fill="#8064A2"/>
<text x="639" y="1258" font-size="25" text-anchor="middle" transform="rotate(-90 639 1258)">Luciferase activity (%)</text>
<text x="826" y="1060.5" font-size="24.5" text-anchor="middle">231</text>
<line x1="777" y1="1069.3" x2="874.5" y2="1069.3" stroke="#2a2a2a" stroke-width="1.15"/>
<text x="984" y="1060.5" font-size="24.5" text-anchor="middle">549</text>
<line x1="935" y1="1069.3" x2="1032" y2="1069.3" stroke="#2a2a2a" stroke-width="1.15"/>
<rect x="1060" y="1085.9" width="31.4" height="9.6" fill="#808080"/>
<text x="1103.6" y="1099.1" font-size="22.7">Ctr</text>
<rect x="1060" y="1110.6" width="31.4" height="9.6" fill="#29ABE2"/>
<text x="1103.6" y="1123.7" font-size="22.7">JQ1</text>
<rect x="1060" y="1135.6" width="31.4" height="9.6" fill="#92CA50"/>
<text x="1103.6" y="1147.1" font-size="22.7">shB4-1</text>
<rect x="1060" y="1161.4" width="31.4" height="9.6" fill="#1AAE4F"/>
<text x="1103.6" y="1173.5" font-size="22.7">shB4-2</text>
<rect x="1060" y="1187.9" width="31.4" height="9.6" fill="#FDBA12"/>
<text x="1103.6" y="1199.9" font-size="22.7">shFD3-1</text>
<rect x="1060" y="1214.4" width="31.4" height="9.6" fill="#ED2024"/>
<text x="1103.6" y="1226.3" font-size="22.7">shFD3-2</text>
<text x="6.2" y="1584" font-size="41" font-weight="bold">j</text>
<rect x="109.7" y="1952" width="21.3" height="78.4" fill="#A6A6A6"/>
<rect x="133" y="1941.18" width="21.3" height="89.22" fill="#ED2024"/>
<rect x="156.3" y="1960.11" width="21.3" height="70.29" fill="#FDBA12"/>
<rect x="179.6" y="1926.76" width="21.3" height="103.64" fill="#92CA50"/>
<rect x="202.9" y="1839.35" width="21.3" height="191.05" fill="#29ABE2"/>
<rect x="226.2" y="1806" width="21.3" height="224.4" fill="#F8EC1F"/>
<rect x="249.5" y="1662.71" width="21.3" height="367.69" fill="#1AAE4F"/>
<rect x="272.8" y="1766.35" width="21.3" height="264.05" fill="#6F3996"/>
<rect x="342.7" y="1979.03" width="21.3" height="51.37" fill="#A6A6A6"/>
<rect x="366" y="1988.94" width="21.3" height="41.46" fill="#ED2024"/>
<rect x="389.3" y="1972.72" width="21.3" height="57.68" fill="#FDBA12"/>
<rect x="412.6" y="1952" width="21.3" height="78.4" fill="#92CA50"/>
<rect x="435.9" y="1870.89" width="21.3" height="159.51" fill="#29ABE2"/>
<rect x="459.2" y="1965.51" width="21.3" height="64.89" fill="#F8EC1F"/>
<rect x="482.5" y="1974.53" width="21.3" height="55.87" fill="#1AAE4F"/>
<rect x="505.8" y="1988.94" width="21.3" height="41.46" fill="#6F3996"/>
<rect x="575.7" y="1968.22" width="21.3" height="62.18" fill="#A6A6A6"/>
<rect x="599" y="1970.92" width="21.3" height="59.48" fill="#ED2024"/>
<rect x="622.3" y="1942.08" width="21.3" height="88.32" fill="#FDBA12"/>
<rect x="645.6" y="1960.11" width="21.3" height="70.29" fill="#92CA50"/>
<rect x="668.9" y="1943.88" width="21.3" height="86.52" fill="#29ABE2"/>
<rect x="692.2" y="1930.37" width="21.3" height="100.03" fill="#F8EC1F"/>
<rect x="715.5" y="1922.26" width="21.3" height="108.14" fill="#1AAE4F"/>
<rect x="738.8" y="1961.91" width="21.3" height="68.49" fill="#6F3996"/>
<line x1="108.7" y1="1579.2" x2="108.7" y2="2031" stroke="#000" stroke-width="1.55"/>
<line x1="103.3" y1="2030.4" x2="108.7" y2="2030.4" stroke="#000" stroke-width="1.6"/>
<text x="92" y="2038.68" font-size="24.6" text-anchor="end">0</text>
<line x1="103.3" y1="1940.28" x2="108.7" y2="1940.28" stroke="#000" stroke-width="1.6"/>
<text x="92" y="1948.82" font-size="24.6" text-anchor="end">0.05</text>
<line x1="103.3" y1="1850.16" x2="108.7" y2="1850.16" stroke="#000" stroke-width="1.6"/>
<text x="92" y="1858.96" font-size="24.6" text-anchor="end">0.1</text>
<line x1="103.3" y1="1760.04" x2="108.7" y2="1760.04" stroke="#000" stroke-width="1.6"/>
<text x="92" y="1769.1" font-size="24.6" text-anchor="end">0.15</text>
<line x1="103.3" y1="1669.92" x2="108.7" y2="1669.92" stroke="#000" stroke-width="1.6"/>
<text x="92" y="1679.24" font-size="24.6" text-anchor="end">0.2</text>
<line x1="103.3" y1="1579.8" x2="108.7" y2="1579.8" stroke="#000" stroke-width="1.6"/>
<text x="92" y="1589.38" font-size="24.6" text-anchor="end">0.25</text>
<line x1="103.3" y1="2030.4" x2="761.5" y2="2030.4" stroke="#000" stroke-width="1.8"/>
<line x1="108.7" y1="2030.4" x2="108.7" y2="2035.8" stroke="#000" stroke-width="1.5"/>
<line x1="132" y1="2030.4" x2="132" y2="2035.8" stroke="#000" stroke-width="1.5"/>
<line x1="155.3" y1="2030.4" x2="155.3" y2="2035.8" stroke="#000" stroke-width="1.5"/>
<line x1="178.6" y1="2030.4" x2="178.6" y2="2035.8" stroke="#000" stroke-width="1.5"/>
<line x1="201.9" y1="2030.4" x2="201.9" y2="2035.8" stroke="#000" stroke-width="1.5"/>
<line x1="225.2" y1="2030.4" x2="225.2" y2="2035.8" stroke="#000" stroke-width="1.5"/>
<line x1="248.5" y1="2030.4" x2="248.5" y2="2035.8" stroke="#000" stroke-width="1.5"/>
<line x1="271.8" y1="2030.4" x2="271.8" y2="2035.8" stroke="#000" stroke-width="1.5"/>
<line x1="295.1" y1="2030.4" x2="295.1" y2="2035.8" stroke="#000" stroke-width="1.5"/>
<line x1="318.4" y1="2030.4" x2="318.4" y2="2035.8" stroke="#000" stroke-width="1.5"/>
<line x1="341.7" y1="2030.4" x2="341.7" y2="2035.8" stroke="#000" stroke-width="1.5"/>
<line x1="365" y1="2030.4" x2="365" y2="2035.8" stroke="#000" stroke-width="1.5"/>
<line x1="388.3" y1="2030.4" x2="388.3" y2="2035.8" stroke="#000" stroke-width="1.5"/>
<line x1="411.6" y1="2030.4" x2="411.6" y2="2035.8" stroke="#000" stroke-width="1.5"/>
<line x1="434.9" y1="2030.4" x2="434.9" y2="2035.8" stroke="#000" stroke-width="1.5"/>
<line x1="458.2" y1="2030.4" x2="458.2" y2="2035.8" stroke="#000" stroke-width="1.5"/>
<line x1="481.5" y1="2030.4" x2="481.5" y2="2035.8" stroke="#000" stroke-width="1.5"/>
<line x1="504.8" y1="2030.4" x2="504.8" y2="2035.8" stroke="#000" stroke-width="1.5"/>
<line x1="528.1" y1="2030.4" x2="528.1" y2="2035.8" stroke="#000" stroke-width="1.5"/>
<line x1="551.4" y1="2030.4" x2="551.4" y2="2035.8" stroke="#000" stroke-width="1.5"/>
<line x1="574.7" y1="2030.4" x2="574.7" y2="2035.8" stroke="#000" stroke-width="1.5"/>
<line x1="598" y1="2030.4" x2="598" y2="2035.8" stroke="#000" stroke-width="1.5"/>
<line x1="621.3" y1="2030.4" x2="621.3" y2="2035.8" stroke="#000" stroke-width="1.5"/>
<line x1="644.6" y1="2030.4" x2="644.6" y2="2035.8" stroke="#000" stroke-width="1.5"/>
<line x1="667.9" y1="2030.4" x2="667.9" y2="2035.8" stroke="#000" stroke-width="1.5"/>
<line x1="691.2" y1="2030.4" x2="691.2" y2="2035.8" stroke="#000" stroke-width="1.5"/>
<line x1="714.5" y1="2030.4" x2="714.5" y2="2035.8" stroke="#000" stroke-width="1.5"/>
<line x1="737.8" y1="2030.4" x2="737.8" y2="2035.8" stroke="#000" stroke-width="1.5"/>
<line x1="761.1" y1="2030.4" x2="761.1" y2="2035.8" stroke="#000" stroke-width="1.5"/>
<line x1="260.15" y1="1632.07" x2="260.15" y2="1695.15" stroke="#111" stroke-width="1.2"/>
<line x1="255.65" y1="1632.07" x2="264.65" y2="1632.07" stroke="#111" stroke-width="1.2"/>
<line x1="120.35" y1="1946.59" x2="120.35" y2="1956.86" stroke="#000" stroke-width="1.4"/>
<rect x="114.22" y="1948.96" width="12.25" height="15.81" fill="#C5504D"/>
<polygon points="120.35,1944.93 126.8,1961.23 113.9,1961.23" fill="#9BBB59"/>
<polygon points="120.35,1938.03 126.99,1946.59 120.35,1955.15 113.71,1946.59" fill="#8064A2"/>
<line x1="143.65" y1="1935.77" x2="143.65" y2="1943.7" stroke="#000" stroke-width="1.4"/>
<rect x="137.52" y="1935.8" width="12.25" height="15.81" fill="#C5504D"/>
<polygon points="143.65,1934.65 150.1,1950.95 137.2,1950.95" fill="#9BBB59"/>
<polygon points="143.65,1927.22 150.29,1935.77 143.65,1944.33 137.01,1935.77" fill="#8064A2"/>
<line x1="166.95" y1="1954.52" x2="166.95" y2="1961.55" stroke="#000" stroke-width="1.4"/>
<rect x="160.82" y="1953.64" width="12.25" height="15.81" fill="#C5504D"/>
<polygon points="166.95,1953.4 173.4,1969.7 160.5,1969.7" fill="#9BBB59"/>
<polygon points="166.95,1945.96 173.59,1954.52 166.95,1963.08 160.31,1954.52" fill="#8064A2"/>
<line x1="190.25" y1="1920.81" x2="190.25" y2="1935.77" stroke="#000" stroke-width="1.4"/>
<rect x="184.12" y="1927.87" width="12.25" height="15.81" fill="#C5504D"/>
<polygon points="190.25,1922.94 196.7,1939.24 183.8,1939.24" fill="#9BBB59"/>
<polygon points="190.25,1912.26 196.89,1920.81 190.25,1929.37 183.61,1920.81" fill="#8064A2"/>
<line x1="213.55" y1="1821.86" x2="213.55" y2="1854.67" stroke="#000" stroke-width="1.4"/>
<rect x="207.42" y="1846.76" width="12.25" height="15.81" fill="#C5504D"/>
<polygon points="213.55,1836.24 220,1852.54 207.1,1852.54" fill="#9BBB59"/>
<polygon points="213.55,1813.3 220.19,1821.86 213.55,1830.42 206.91,1821.86" fill="#8064A2"/>
<line x1="236.85" y1="1784.37" x2="236.85" y2="1820.96" stroke="#000" stroke-width="1.4"/>
<rect x="230.72" y="1813.06" width="12.25" height="15.81" fill="#C5504D"/>
<polygon points="236.85,1802.54 243.3,1818.84 230.4,1818.84" fill="#9BBB59"/>
<polygon points="236.85,1775.81 243.49,1784.37 236.85,1792.93 230.21,1784.37" fill="#8064A2"/>
<line x1="260.15" y1="1639.28" x2="260.15" y2="1698.22" stroke="#000" stroke-width="1.4"/>
<rect x="254.02" y="1690.31" width="12.25" height="15.81" fill="#C5504D"/>
<polygon points="260.15,1644.11 266.6,1660.41 253.7,1660.41" fill="#9BBB59"/>
<polygon points="260.15,1630.72 266.79,1639.28 260.15,1647.84 253.51,1639.28" fill="#8064A2"/>
<line x1="283.45" y1="1745.08" x2="283.45" y2="1786.72" stroke="#000" stroke-width="1.4"/>
<rect x="277.32" y="1778.81" width="12.25" height="15.81" fill="#C5504D"/>
<polygon points="283.45,1759.82 289.9,1776.12 277,1776.12" fill="#9BBB59"/>
<polygon points="283.45,1736.52 290.09,1745.08 283.45,1753.64 276.81,1745.08" fill="#8064A2"/>
<line x1="353.35" y1="1964.79" x2="353.35" y2="1990.57" stroke="#000" stroke-width="1.4"/>
<rect x="347.22" y="1982.66" width="12.25" height="15.81" fill="#C5504D"/>
<polygon points="353.35,1979.17 359.8,1995.47 346.9,1995.47" fill="#9BBB59"/>
<polygon points="353.35,1956.24 359.99,1964.79 353.35,1973.35 346.71,1964.79" fill="#8064A2"/>
<line x1="376.65" y1="1981.19" x2="376.65" y2="1992.01" stroke="#000" stroke-width="1.4"/>
<rect x="370.52" y="1984.1" width="12.25" height="15.81" fill="#C5504D"/>
<polygon points="376.65,1983.86 383.1,2000.16 370.2,2000.16" fill="#9BBB59"/>
<polygon points="376.65,1972.64 383.29,1981.19 376.65,1989.75 370.01,1981.19" fill="#8064A2"/>
<line x1="399.95" y1="1970.02" x2="399.95" y2="1975.61" stroke="#000" stroke-width="1.4"/>
<rect x="393.82" y="1967.7" width="12.25" height="15.81" fill="#C5504D"/>
<polygon points="399.95,1966.56 406.4,1982.86 393.5,1982.86" fill="#9BBB59"/>
<polygon points="399.95,1961.46 406.59,1970.02 399.95,1978.58 393.31,1970.02" fill="#8064A2"/>
<line x1="423.25" y1="1941.9" x2="423.25" y2="1966.23" stroke="#000" stroke-width="1.4"/>
<rect x="417.12" y="1958.33" width="12.25" height="15.81" fill="#C5504D"/>
<polygon points="423.25,1951.06 429.7,1967.36 416.8,1967.36" fill="#9BBB59"/>
<polygon points="423.25,1933.34 429.89,1941.9 423.25,1950.46 416.61,1941.9" fill="#8064A2"/>
<line x1="446.55" y1="1848.18" x2="446.55" y2="1893.6" stroke="#000" stroke-width="1.4"/>
<rect x="440.42" y="1885.69" width="12.25" height="15.81" fill="#C5504D"/>
<polygon points="446.55,1865.26 453,1881.56 440.1,1881.56" fill="#9BBB59"/>
<polygon points="446.55,1839.62 453.19,1848.18 446.55,1856.73 439.91,1848.18" fill="#8064A2"/>
<line x1="469.85" y1="1958.3" x2="469.85" y2="1973.26" stroke="#000" stroke-width="1.4"/>
<rect x="463.72" y="1965.36" width="12.25" height="15.81" fill="#C5504D"/>
<polygon points="469.85,1960.43 476.3,1976.73 463.4,1976.73" fill="#9BBB59"/>
<polygon points="469.85,1949.75 476.49,1958.3 469.85,1966.86 463.21,1958.3" fill="#8064A2"/>
<line x1="493.15" y1="1965.33" x2="493.15" y2="1984.08" stroke="#000" stroke-width="1.4"/>
<rect x="487.02" y="1976.17" width="12.25" height="15.81" fill="#C5504D"/>
<polygon points="493.15,1969.8 499.6,1986.1 486.7,1986.1" fill="#9BBB59"/>
<polygon points="493.15,1956.78 499.79,1965.33 493.15,1973.89 486.51,1965.33" fill="#8064A2"/>
<line x1="516.45" y1="1978.85" x2="516.45" y2="1996.7" stroke="#000" stroke-width="1.4"/>
<rect x="510.32" y="1988.79" width="12.25" height="15.81" fill="#C5504D"/>
<polygon points="516.45,1983.86 522.9,2000.16 510,2000.16" fill="#9BBB59"/>
<polygon points="516.45,1970.29 523.09,1978.85 516.45,1987.41 509.81,1978.85" fill="#8064A2"/>
<line x1="586.35" y1="1960.65" x2="586.35" y2="1971.82" stroke="#000" stroke-width="1.4"/>
<rect x="580.22" y="1963.92" width="12.25" height="15.81" fill="#C5504D"/>
<polygon points="586.35,1963.67 592.8,1979.97 579.9,1979.97" fill="#9BBB59"/>
<polygon points="586.35,1952.09 592.99,1960.65 586.35,1969.2 579.71,1960.65" fill="#8064A2"/>
<line x1="609.65" y1="1965.33" x2="609.65" y2="1977.95" stroke="#000" stroke-width="1.4"/>
<rect x="603.52" y="1970.04" width="12.25" height="15.81" fill="#C5504D"/>
<polygon points="609.65,1967.46 616.1,1983.76 603.2,1983.76" fill="#9BBB59"/>
<polygon points="609.65,1956.78 616.29,1965.33 609.65,1973.89 603.01,1965.33" fill="#8064A2"/>
<line x1="632.95" y1="1933.43" x2="632.95" y2="1950.73" stroke="#000" stroke-width="1.4"/>
<rect x="626.82" y="1942.83" width="12.25" height="15.81" fill="#C5504D"/>
<polygon points="632.95,1937 639.4,1953.3 626.5,1953.3" fill="#9BBB59"/>
<polygon points="632.95,1924.87 639.59,1933.43 632.95,1941.99 626.31,1933.43" fill="#8064A2"/>
<line x1="656.25" y1="1941.36" x2="656.25" y2="1975.61" stroke="#000" stroke-width="1.4"/>
<rect x="650.12" y="1967.7" width="12.25" height="15.81" fill="#C5504D"/>
<polygon points="656.25,1955.74 662.7,1972.04 649.8,1972.04" fill="#9BBB59"/>
<polygon points="656.25,1932.8 662.89,1941.36 656.25,1949.92 649.61,1941.36" fill="#8064A2"/>
<line x1="679.55" y1="1924.96" x2="679.55" y2="1964.79" stroke="#000" stroke-width="1.4"/>
<rect x="673.42" y="1956.89" width="12.25" height="15.81" fill="#C5504D"/>
<polygon points="679.55,1938.44 686,1954.74 673.1,1954.74" fill="#9BBB59"/>
<polygon points="679.55,1916.4 686.19,1924.96 679.55,1933.52 672.91,1924.96" fill="#8064A2"/>
<line x1="702.85" y1="1920.27" x2="702.85" y2="1941.36" stroke="#000" stroke-width="1.4"/>
<rect x="696.72" y="1933.46" width="12.25" height="15.81" fill="#C5504D"/>
<polygon points="702.85,1921.5 709.3,1937.8 696.4,1937.8" fill="#9BBB59"/>
<polygon points="702.85,1911.72 709.49,1920.27 702.85,1928.83 696.21,1920.27" fill="#8064A2"/>
<line x1="726.15" y1="1908.56" x2="726.15" y2="1934.33" stroke="#000" stroke-width="1.4"/>
<rect x="720.02" y="1926.43" width="12.25" height="15.81" fill="#C5504D"/>
<polygon points="726.15,1918.25 732.6,1934.55 719.7,1934.55" fill="#9BBB59"/>
<polygon points="726.15,1900 732.79,1908.56 726.15,1917.12 719.51,1908.56" fill="#8064A2"/>
<line x1="749.45" y1="1954.52" x2="749.45" y2="1971.82" stroke="#000" stroke-width="1.4"/>
<rect x="743.32" y="1963.92" width="12.25" height="15.81" fill="#C5504D"/>
<polygon points="749.45,1953.4 755.9,1969.7 743,1969.7" fill="#9BBB59"/>
<polygon points="749.45,1945.96 756.09,1954.52 749.45,1963.08 742.81,1954.52" fill="#8064A2"/>
<text x="18.7" y="1805.6" font-size="25" text-anchor="middle" transform="rotate(-90 18.7 1805.6)">Input (%)</text>
<rect x="508" y="1634.75" width="31.1" height="9.7" fill="#808080"/>
<text x="552.2" y="1646.3" font-size="22.7">IgG+FD3</text>
<rect x="508" y="1662.95" width="31.1" height="9.7" fill="#ED2024"/>
<text x="552.2" y="1674.3" font-size="22.7">IgG+B4</text>
<rect x="508.4" y="1691.55" width="31.1" height="9.7" fill="#FDBA12"/>
<text x="552.2" y="1703.8" font-size="22.7">FD3+IgG</text>
<rect x="509.2" y="1719.35" width="31.1" height="9.7" fill="#92CA50"/>
<text x="552.2" y="1730.7" font-size="22.7">B4+IgG</text>
<rect x="509.2" y="1746.15" width="31.1" height="9.7" fill="#29ABE2"/>
<text x="552.2" y="1758.3" font-size="22.7">FD3+FD3</text>
<rect x="509.8" y="1770.85" width="31.1" height="9.7" fill="#F8EC1F"/>
<text x="552.2" y="1782.8" font-size="22.7">FD3+B4</text>
<rect x="510.6" y="1795.15" width="31.1" height="9.7" fill="#1AAE4F"/>
<text x="552.2" y="1807.4" font-size="22.7">B4+B4</text>
<rect x="510.3" y="1818.75" width="31.1" height="9.7" fill="#6F3996"/>
<text x="552.2" y="1831.1" font-size="22.7">B4+FD3</text>
<line x1="104" y1="2053" x2="287" y2="2053" stroke="#000" stroke-width="2"/>
<line x1="341" y1="2053" x2="524.6" y2="2053" stroke="#000" stroke-width="2"/>
<line x1="580" y1="2053" x2="763.5" y2="2053" stroke="#000" stroke-width="2"/>
<text x="202" y="2085" font-size="24.8" text-anchor="middle">shRNA-C</text>
<text x="424" y="2085" font-size="24.8" text-anchor="middle">JQ1</text>
<text x="672" y="2085" font-size="24.8" text-anchor="middle">shFOXD3</text>
<text x="814.5" y="1584" font-size="41" font-weight="bold">k</text>
<rect x="910.75" y="1731.17" width="27.6" height="278.83" fill="#A6A6A6"/>
<rect x="940.85" y="1909.62" width="27.6" height="100.38" fill="#4F81BD"/>
<rect x="970.95" y="1964.55" width="27.6" height="45.45" fill="#92CA50"/>
<rect x="1061.25" y="1731.17" width="27.6" height="278.83" fill="#A6A6A6"/>
<rect x="1091.35" y="1862.78" width="27.6" height="147.22" fill="#4F81BD"/>
<rect x="1121.45" y="1901.26" width="27.6" height="108.74" fill="#92CA50"/>
<line x1="909.5" y1="1674.8" x2="909.5" y2="2010.6" stroke="#000" stroke-width="1.55"/>
<line x1="904.1" y1="2010" x2="909.5" y2="2010" stroke="#000" stroke-width="1.6"/>
<text x="893" y="2018.28" font-size="24.6" text-anchor="end">0</text>
<line x1="904.1" y1="1954.23" x2="909.5" y2="1954.23" stroke="#000" stroke-width="1.6"/>
<text x="893" y="1962.73" font-size="24.6" text-anchor="end">0.2</text>
<line x1="904.1" y1="1898.47" x2="909.5" y2="1898.47" stroke="#000" stroke-width="1.6"/>
<text x="893" y="1907.18" font-size="24.6" text-anchor="end">0.4</text>
<line x1="904.1" y1="1842.7" x2="909.5" y2="1842.7" stroke="#000" stroke-width="1.6"/>
<text x="893" y="1851.63" font-size="24.6" text-anchor="end">0.6</text>
<line x1="904.1" y1="1786.93" x2="909.5" y2="1786.93" stroke="#000" stroke-width="1.6"/>
<text x="893" y="1796.08" font-size="24.6" text-anchor="end">0.8</text>
<line x1="904.1" y1="1731.17" x2="909.5" y2="1731.17" stroke="#000" stroke-width="1.6"/>
<text x="893" y="1740.53" font-size="24.6" text-anchor="end">1.0</text>
<line x1="904.1" y1="1675.4" x2="909.5" y2="1675.4" stroke="#000" stroke-width="1.6"/>
<text x="893" y="1684.98" font-size="24.6" text-anchor="end">1.2</text>
<line x1="904.1" y1="2010" x2="1150.3" y2="2010" stroke="#000" stroke-width="1.8"/>
<line x1="909.5" y1="2010" x2="909.5" y2="2015.4" stroke="#000" stroke-width="1.5"/>
<line x1="939.6" y1="2010" x2="939.6" y2="2015.4" stroke="#000" stroke-width="1.5"/>
<line x1="969.7" y1="2010" x2="969.7" y2="2015.4" stroke="#000" stroke-width="1.5"/>
<line x1="999.8" y1="2010" x2="999.8" y2="2015.4" stroke="#000" stroke-width="1.5"/>
<line x1="1029.9" y1="2010" x2="1029.9" y2="2015.4" stroke="#000" stroke-width="1.5"/>
<line x1="1060" y1="2010" x2="1060" y2="2015.4" stroke="#000" stroke-width="1.5"/>
<line x1="1090.1" y1="2010" x2="1090.1" y2="2015.4" stroke="#000" stroke-width="1.5"/>
<line x1="1120.2" y1="2010" x2="1120.2" y2="2015.4" stroke="#000" stroke-width="1.5"/>
<line x1="1150.3" y1="2010" x2="1150.3" y2="2015.4" stroke="#000" stroke-width="1.5"/>
<line x1="924.55" y1="1729.49" x2="924.55" y2="1733.95" stroke="#000" stroke-width="1.4"/>
<rect x="919.23" y="1721.83" width="10.64" height="15.33" fill="#C5504D"/>
<polygon points="924.55,1726.05 930.15,1741.86 918.95,1741.86" fill="#9BBB59"/>
<polygon points="924.55,1722.87 930.32,1731.17 924.55,1739.46 918.78,1731.17" fill="#8064A2"/>
<line x1="954.65" y1="1901.53" x2="954.65" y2="1923.09" stroke="#000" stroke-width="1.4"/>
<rect x="949.33" y="1915.42" width="10.64" height="15.33" fill="#C5504D"/>
<polygon points="954.65,1903.95 960.25,1919.75 949.05,1919.75" fill="#9BBB59"/>
<polygon points="954.65,1893.24 960.42,1901.53 954.65,1909.83 948.88,1901.53" fill="#8064A2"/>
<line x1="984.75" y1="1956.88" x2="984.75" y2="1972" stroke="#000" stroke-width="1.4"/>
<rect x="979.43" y="1964.33" width="10.64" height="15.33" fill="#C5504D"/>
<polygon points="984.75,1961.72 990.35,1977.52 979.15,1977.52" fill="#9BBB59"/>
<polygon points="984.75,1948.59 990.52,1956.88 984.75,1965.18 978.98,1956.88" fill="#8064A2"/>
<line x1="1075.05" y1="1729.49" x2="1075.05" y2="1733.95" stroke="#000" stroke-width="1.4"/>
<rect x="1069.73" y="1721.83" width="10.64" height="15.33" fill="#C5504D"/>
<polygon points="1075.05,1726.05 1080.65,1741.86 1069.45,1741.86" fill="#9BBB59"/>
<polygon points="1075.05,1722.87 1080.82,1731.17 1075.05,1739.46 1069.28,1731.17" fill="#8064A2"/>
<line x1="1105.15" y1="1845.21" x2="1105.15" y2="1876.3" stroke="#000" stroke-width="1.4"/>
<rect x="1099.83" y="1868.64" width="10.64" height="15.33" fill="#C5504D"/>
<polygon points="1105.15,1858.03 1110.75,1873.83 1099.55,1873.83" fill="#9BBB59"/>
<polygon points="1105.15,1836.91 1110.92,1845.21 1105.15,1853.5 1099.38,1845.21" fill="#8064A2"/>
<line x1="1135.25" y1="1890.49" x2="1135.25" y2="1910.37" stroke="#000" stroke-width="1.4"/>
<rect x="1129.93" y="1902.71" width="10.64" height="15.33" fill="#C5504D"/>
<polygon points="1135.25,1898.93 1140.85,1914.73 1129.65,1914.73" fill="#9BBB59"/>
<polygon points="1135.25,1882.2 1141.02,1890.49 1135.25,1898.79 1129.48,1890.49" fill="#8064A2"/>
<text x="833" y="1845.3" font-size="25" text-anchor="middle" transform="rotate(-90 833 1845.3)">miR-548d-3p level (folds)</text>
<text x="964.3" y="1677.8" font-size="24.5" text-anchor="middle">231</text>
<line x1="915.4" y1="1687.5" x2="1012.6" y2="1687.5" stroke="#2a2a2a" stroke-width="1.15"/>
<text x="1102" y="1677.8" font-size="24.5" text-anchor="middle">549</text>
<line x1="1053.2" y1="1687.5" x2="1150.4" y2="1687.5" stroke="#2a2a2a" stroke-width="1.15"/>
<text x="936.75" y="2037.3" font-size="22.9" text-anchor="end" transform="rotate(-45 936.75 2037.3)">shRNA-C</text>
<text x="966.85" y="2037.3" font-size="22.9" text-anchor="end" transform="rotate(-45 966.85 2037.3)">shFD3-1</text>
<text x="996.95" y="2037.3" font-size="22.9" text-anchor="end" transform="rotate(-45 996.95 2037.3)">shFD3-2</text>
<text x="1087.25" y="2037.3" font-size="22.9" text-anchor="end" transform="rotate(-45 1087.25 2037.3)">shRNA-C</text>
<text x="1117.35" y="2037.3" font-size="22.9" text-anchor="end" transform="rotate(-45 1117.35 2037.3)">shFD3-1</text>
<text x="1147.45" y="2037.3" font-size="22.9" text-anchor="end" transform="rotate(-45 1147.45 2037.3)">shFD3-2</text>
<text x="1208.5" y="1583" font-size="41" font-weight="bold">l</text>
<rect x="1306.13" y="1738.88" width="26.1" height="304.92" fill="#A6A6A6"/>
<rect x="1336.09" y="1887.38" width="26.1" height="156.42" fill="#29ABE2"/>
<rect x="1366.05" y="1738.88" width="26.1" height="304.92" fill="#A6A6A6"/>
<rect x="1396.01" y="1827.31" width="26.1" height="216.49" fill="#29ABE2"/>
<rect x="1425.97" y="1738.88" width="26.1" height="304.92" fill="#A6A6A6"/>
<rect x="1455.93" y="1817.55" width="26.1" height="226.25" fill="#29ABE2"/>
<rect x="1545.81" y="1738.88" width="26.1" height="304.92" fill="#A6A6A6"/>
<rect x="1575.77" y="1939.21" width="26.1" height="104.59" fill="#92CA50"/>
<rect x="1605.73" y="1738.88" width="26.1" height="304.92" fill="#A6A6A6"/>
<rect x="1635.69" y="1889.21" width="26.1" height="154.59" fill="#92CA50"/>
<rect x="1665.65" y="1738.88" width="26.1" height="304.92" fill="#A6A6A6"/>
<rect x="1695.61" y="1853.84" width="26.1" height="189.96" fill="#92CA50"/>
<line x1="1304.2" y1="1677.3" x2="1304.2" y2="2044.4" stroke="#000" stroke-width="1.55"/>
<line x1="1298.8" y1="2043.8" x2="1304.2" y2="2043.8" stroke="#000" stroke-width="1.6"/>
<text x="1288" y="2052.08" font-size="24.6" text-anchor="end">0</text>
<line x1="1298.8" y1="1982.82" x2="1304.2" y2="1982.82" stroke="#000" stroke-width="1.6"/>
<text x="1288" y="1991.32" font-size="24.6" text-anchor="end">20</text>
<line x1="1298.8" y1="1921.83" x2="1304.2" y2="1921.83" stroke="#000" stroke-width="1.6"/>
<text x="1288" y="1930.55" font-size="24.6" text-anchor="end">40</text>
<line x1="1298.8" y1="1860.85" x2="1304.2" y2="1860.85" stroke="#000" stroke-width="1.6"/>
<text x="1288" y="1869.78" font-size="24.6" text-anchor="end">60</text>
<line x1="1298.8" y1="1799.87" x2="1304.2" y2="1799.87" stroke="#000" stroke-width="1.6"/>
<text x="1288" y="1809.02" font-size="24.6" text-anchor="end">80</text>
<line x1="1298.8" y1="1738.88" x2="1304.2" y2="1738.88" stroke="#000" stroke-width="1.6"/>
<text x="1288" y="1748.25" font-size="24.6" text-anchor="end">100</text>
<line x1="1298.8" y1="1677.9" x2="1304.2" y2="1677.9" stroke="#000" stroke-width="1.6"/>
<text x="1288" y="1687.48" font-size="24.6" text-anchor="end">120</text>
<line x1="1298.8" y1="2043.8" x2="1724" y2="2043.8" stroke="#000" stroke-width="1.8"/>
<line x1="1304.2" y1="2043.8" x2="1304.2" y2="2049.2" stroke="#000" stroke-width="1.5"/>
<line x1="1334.16" y1="2043.8" x2="1334.16" y2="2049.2" stroke="#000" stroke-width="1.5"/>
<line x1="1364.12" y1="2043.8" x2="1364.12" y2="2049.2" stroke="#000" stroke-width="1.5"/>
<line x1="1394.08" y1="2043.8" x2="1394.08" y2="2049.2" stroke="#000" stroke-width="1.5"/>
<line x1="1424.04" y1="2043.8" x2="1424.04" y2="2049.2" stroke="#000" stroke-width="1.5"/>
<line x1="1454" y1="2043.8" x2="1454" y2="2049.2" stroke="#000" stroke-width="1.5"/>
<line x1="1483.96" y1="2043.8" x2="1483.96" y2="2049.2" stroke="#000" stroke-width="1.5"/>
<line x1="1513.92" y1="2043.8" x2="1513.92" y2="2049.2" stroke="#000" stroke-width="1.5"/>
<line x1="1543.88" y1="2043.8" x2="1543.88" y2="2049.2" stroke="#000" stroke-width="1.5"/>
<line x1="1573.84" y1="2043.8" x2="1573.84" y2="2049.2" stroke="#000" stroke-width="1.5"/>
<line x1="1603.8" y1="2043.8" x2="1603.8" y2="2049.2" stroke="#000" stroke-width="1.5"/>
<line x1="1633.76" y1="2043.8" x2="1633.76" y2="2049.2" stroke="#000" stroke-width="1.5"/>
<line x1="1663.72" y1="2043.8" x2="1663.72" y2="2049.2" stroke="#000" stroke-width="1.5"/>
<line x1="1693.68" y1="2043.8" x2="1693.68" y2="2049.2" stroke="#000" stroke-width="1.5"/>
<line x1="1723.64" y1="2043.8" x2="1723.64" y2="2049.2" stroke="#000" stroke-width="1.5"/>
<line x1="1349.14" y1="1878.54" x2="1349.14" y2="1893.48" stroke="#000" stroke-width="1.4"/>
<rect x="1343.73" y="1871.02" width="10.83" height="15.04" fill="#C5504D"/>
<polygon points="1349.14,1881.15 1354.84,1896.65 1343.44,1896.65" fill="#9BBB59"/>
<polygon points="1349.14,1885.34 1355.01,1893.48 1349.14,1901.61 1343.27,1893.48" fill="#8064A2"/>
<line x1="1409.06" y1="1821.82" x2="1409.06" y2="1830.36" stroke="#000" stroke-width="1.4"/>
<rect x="1403.64" y="1814.3" width="10.83" height="15.04" fill="#C5504D"/>
<polygon points="1409.06,1822 1414.76,1837.5 1403.36,1837.5" fill="#9BBB59"/>
<polygon points="1409.06,1822.22 1414.93,1830.36 1409.06,1838.5 1403.19,1830.36" fill="#8064A2"/>
<line x1="1468.98" y1="1809.32" x2="1468.98" y2="1828.22" stroke="#000" stroke-width="1.4"/>
<rect x="1463.57" y="1820.71" width="10.83" height="15.04" fill="#C5504D"/>
<polygon points="1468.98,1812.55 1474.68,1828.05 1463.28,1828.05" fill="#9BBB59"/>
<polygon points="1468.98,1801.18 1474.85,1809.32 1468.98,1817.46 1463.11,1809.32" fill="#8064A2"/>
<line x1="1588.82" y1="1934.94" x2="1588.82" y2="1941.96" stroke="#000" stroke-width="1.4"/>
<rect x="1583.41" y="1927.43" width="10.83" height="15.04" fill="#C5504D"/>
<polygon points="1588.82,1932.07 1594.52,1947.57 1583.12,1947.57" fill="#9BBB59"/>
<polygon points="1588.82,1933.82 1594.69,1941.96 1588.82,1950.1 1582.95,1941.96" fill="#8064A2"/>
<line x1="1648.74" y1="1883.41" x2="1648.74" y2="1899.88" stroke="#000" stroke-width="1.4"/>
<rect x="1643.33" y="1892.36" width="10.83" height="15.04" fill="#C5504D"/>
<polygon points="1648.74,1884.2 1654.44,1899.7 1643.04,1899.7" fill="#9BBB59"/>
<polygon points="1648.74,1875.28 1654.61,1883.41 1648.74,1891.55 1642.87,1883.41" fill="#8064A2"/>
<line x1="1708.66" y1="1837.07" x2="1708.66" y2="1868.17" stroke="#000" stroke-width="1.4"/>
<rect x="1703.25" y="1860.65" width="10.83" height="15.04" fill="#C5504D"/>
<polygon points="1708.66,1852.49 1714.36,1867.99 1702.96,1867.99" fill="#9BBB59"/>
<polygon points="1708.66,1828.93 1714.53,1837.07 1708.66,1845.2 1702.79,1837.07" fill="#8064A2"/>
<line x1="1319.18" y1="1736.44" x2="1319.18" y2="1741.02" stroke="#000" stroke-width="1.4"/>
<rect x="1313.77" y="1728.93" width="10.83" height="15.04" fill="#C5504D"/>
<polygon points="1319.18,1733.27 1324.88,1748.77 1313.48,1748.77" fill="#9BBB59"/>
<polygon points="1319.18,1730.75 1325.05,1738.88 1319.18,1747.02 1313.31,1738.88" fill="#8064A2"/>
<line x1="1379.1" y1="1736.44" x2="1379.1" y2="1741.02" stroke="#000" stroke-width="1.4"/>
<rect x="1373.69" y="1728.93" width="10.83" height="15.04" fill="#C5504D"/>
<polygon points="1379.1,1733.27 1384.8,1748.77 1373.4,1748.77" fill="#9BBB59"/>
<polygon points="1379.1,1730.75 1384.97,1738.88 1379.1,1747.02 1373.23,1738.88" fill="#8064A2"/>
<line x1="1439.02" y1="1736.44" x2="1439.02" y2="1741.02" stroke="#000" stroke-width="1.4"/>
<rect x="1433.61" y="1728.93" width="10.83" height="15.04" fill="#C5504D"/>
<polygon points="1439.02,1733.27 1444.72,1748.77 1433.32,1748.77" fill="#9BBB59"/>
<polygon points="1439.02,1730.75 1444.89,1738.88 1439.02,1747.02 1433.15,1738.88" fill="#8064A2"/>
<line x1="1558.86" y1="1736.44" x2="1558.86" y2="1741.02" stroke="#000" stroke-width="1.4"/>
<rect x="1553.45" y="1728.93" width="10.83" height="15.04" fill="#C5504D"/>
<polygon points="1558.86,1733.27 1564.56,1748.77 1553.16,1748.77" fill="#9BBB59"/>
<polygon points="1558.86,1730.75 1564.73,1738.88 1558.86,1747.02 1552.99,1738.88" fill="#8064A2"/>
<line x1="1618.78" y1="1736.44" x2="1618.78" y2="1741.02" stroke="#000" stroke-width="1.4"/>
<rect x="1613.37" y="1728.93" width="10.83" height="15.04" fill="#C5504D"/>
<polygon points="1618.78,1733.27 1624.48,1748.77 1613.08,1748.77" fill="#9BBB59"/>
<polygon points="1618.78,1730.75 1624.65,1738.88 1618.78,1747.02 1612.91,1738.88" fill="#8064A2"/>
<line x1="1678.7" y1="1736.44" x2="1678.7" y2="1741.02" stroke="#000" stroke-width="1.4"/>
<rect x="1673.29" y="1728.93" width="10.83" height="15.04" fill="#C5504D"/>
<polygon points="1678.7,1733.27 1684.4,1748.77 1673,1748.77" fill="#9BBB59"/>
<polygon points="1678.7,1730.75 1684.57,1738.88 1678.7,1747.02 1672.83,1738.88" fill="#8064A2"/>
<text x="1221" y="1861" font-size="25" text-anchor="middle" transform="rotate(-90 1221 1861)">Cell growth (%)</text>
<text x="1406.5" y="1656.5" font-size="24.5" text-anchor="middle">MDA231</text>
<line x1="1357.2" y1="1666.2" x2="1454.6" y2="1666.2" stroke="#2a2a2a" stroke-width="1.15"/>
<text x="1651.5" y="1656.5" font-size="24.5" text-anchor="middle">BT549</text>
<line x1="1602.2" y1="1666.2" x2="1699.1" y2="1666.2" stroke="#2a2a2a" stroke-width="1.15"/>
<polyline points="1338.8,1866.4 1338.8,1695.8 1462.2,1695.8 1462.2,1781.8" fill="none" stroke="#000" stroke-width="2.2" stroke-linejoin="miter"/>
<polyline points="1348.5,1864.8 1348.5,1726.2 1416.7,1726.2 1416.7,1795" fill="none" stroke="#000" stroke-width="2.2" stroke-linejoin="miter"/>
<text x="1395.2" y="1694.6" font-size="24" text-anchor="middle" font-weight="bold" letter-spacing="2.2">***</text>
<text x="1381.85" y="1722.3" font-size="24" text-anchor="middle" font-weight="bold" letter-spacing="2.2">***</text>
<polyline points="1591.8,1872.8 1591.8,1701 1713.4,1701 1713.4,1787.3" fill="none" stroke="#000" stroke-width="2.2" stroke-linejoin="miter"/>
<polyline points="1584.2,1864.8 1584.2,1728 1653.6,1728 1653.6,1797.7" fill="none" stroke="#000" stroke-width="2.2" stroke-linejoin="miter"/>
<text x="1659.8" y="1700.4" font-size="24" text-anchor="middle" font-weight="bold" letter-spacing="2.2">**</text>
<text x="1620.1" y="1727.6" font-size="24" text-anchor="middle" font-weight="bold" letter-spacing="2.2">**</text>
<text x="1331.38" y="2072.6" font-size="22.9" text-anchor="end" transform="rotate(-45 1331.38 2072.6)">shRNA-C</text>
<text x="1361.34" y="2072.6" font-size="22.9" text-anchor="end" transform="rotate(-45 1361.34 2072.6)">JQ1+shRNA-C</text>
<text x="1391.3" y="2072.6" font-size="22.9" text-anchor="end" transform="rotate(-45 1391.3 2072.6)">shFd3-1</text>
<text x="1421.26" y="2072.6" font-size="22.9" text-anchor="end" transform="rotate(-45 1421.26 2072.6)">JQ1+shFD3-1</text>
<text x="1451.22" y="2072.6" font-size="22.9" text-anchor="end" transform="rotate(-45 1451.22 2072.6)">shFd3-2</text>
<text x="1481.18" y="2072.6" font-size="22.9" text-anchor="end" transform="rotate(-45 1481.18 2072.6)">JQ1+shFD3-2</text>
<text x="1571.06" y="2072.6" font-size="22.9" text-anchor="end" transform="rotate(-45 1571.06 2072.6)">shRNA-C</text>
<text x="1601.02" y="2072.6" font-size="22.9" text-anchor="end" transform="rotate(-45 1601.02 2072.6)">JQ1+shRNA-C</text>
<text x="1630.98" y="2072.6" font-size="22.9" text-anchor="end" transform="rotate(-45 1630.98 2072.6)">shFd3-1</text>
<text x="1660.94" y="2072.6" font-size="22.9" text-anchor="end" transform="rotate(-45 1660.94 2072.6)">JQ1+shFD3-1</text>
<text x="1690.9" y="2072.6" font-size="22.9" text-anchor="end" transform="rotate(-45 1690.9 2072.6)">shFd3-2</text>
<text x="1720.86" y="2072.6" font-size="22.9" text-anchor="end" transform="rotate(-45 1720.86 2072.6)">JQ1+shFD3-2</text>
<text x="1261.5" y="998.3" font-size="41" font-weight="bold">i</text>
<text x="1443.5" y="1028" font-size="24.5" transform="rotate(-90 1443.5 1028)">IgG</text>
<text x="1491.5" y="1028" font-size="24.5" transform="rotate(-90 1491.5 1028)">Ctr</text>
<text x="1543.5" y="1028" font-size="24.5" transform="rotate(-90 1543.5 1028)">JQ1</text>
<rect x="1397.9" y="1041.9" width="158.1" height="66.1" fill="#d6d6d6"/>
<rect x="1398.8" y="1116.1" width="157.2" height="75.9" fill="#f1f1f1"/>
<rect x="1397.9" y="1198.8" width="158.1" height="66.3" fill="#fbfbfb"/>
<rect x="1398.8" y="1270.2" width="157.2" height="61.8" fill="#dfdfdf"/>
<rect x="1459.8" y="1340.4" width="98.6" height="56" fill="#efefef"/>
<rect x="1459.3" y="1404.2" width="100.2" height="52.7" fill="#e6e6e6"/>
<rect x="1459.8" y="1463.2" width="98.6" height="49.5" fill="#dcdcdc"/>
<g clip-path="url(#blotclip)">
<rect x="1397.9" y="1041.9" width="158.1" height="66.1" filter="url(#noise)" opacity="0.5"/>
<rect x="1398.8" y="1116.1" width="157.2" height="75.9" filter="url(#noise)" opacity="0.5"/>
<rect x="1397.9" y="1198.8" width="158.1" height="66.3" filter="url(#noise)" opacity="0.5"/>
<rect x="1398.8" y="1270.2" width="157.2" height="61.8" filter="url(#noise)" opacity="0.5"/>
<rect x="1459.8" y="1340.4" width="98.6" height="56" filter="url(#noise)" opacity="0.5"/>
<rect x="1459.3" y="1404.2" width="100.2" height="52.7" filter="url(#noise)" opacity="0.5"/>
<rect x="1459.8" y="1463.2" width="98.6" height="49.5" filter="url(#noise)" opacity="0.5"/>
<rect x="1464" y="1139.8" width="36" height="30" rx="15" fill="#000" opacity="0.1" filter="url(#bl2_4)"/>
<rect x="1508" y="1138.3" width="39" height="30" rx="15" fill="#000" opacity="0.1" filter="url(#bl2_4)"/>
<rect x="1464" y="1217" width="36" height="30" rx="15" fill="#000" opacity="0.07" filter="url(#bl2_4)"/>
<rect x="1508" y="1221" width="38" height="26" rx="13" fill="#000" opacity="0.05" filter="url(#bl2_4)"/>
<rect x="1464" y="1289" width="35" height="22" rx="11" fill="#000" opacity="0.1" filter="url(#bl2_4)"/>
<rect x="1507" y="1290" width="40" height="22" rx="11" fill="#000" opacity="0.1" filter="url(#bl2_4)"/>
<rect x="1466" y="1359" width="36" height="20" rx="10" fill="#000" opacity="0.07" filter="url(#bl2_4)"/>
<rect x="1509" y="1359" width="41" height="20" rx="10" fill="#000" opacity="0.07" filter="url(#bl2_4)"/>
<rect x="1466" y="1415" width="36" height="26" rx="13" fill="#000" opacity="0.09" filter="url(#bl2_4)"/>
<rect x="1512" y="1415" width="38" height="26" rx="13" fill="#000" opacity="0.09" filter="url(#bl2_4)"/>
<rect x="1465" y="1476" width="86" height="22" rx="11" fill="#000" opacity="0.08" filter="url(#bl2_4)"/>
<rect x="1397.9" y="1041.9" width="60" height="66.1" fill="#fff" opacity="0.12"/>
<rect x="1465.5" y="1072.05" width="27" height="6.5" rx="3.25" fill="#000" opacity="0.95" filter="url(#bl1_3)"/>
<rect x="1512.5" y="1073.85" width="12.5" height="5.5" rx="2.75" fill="#000" opacity="0.45" filter="url(#bl1_6)"/>
<rect x="1524" y="1075.5" width="13" height="4" rx="2" fill="#000" opacity="0.25" filter="url(#bl1_6)"/>
<rect x="1535.5" y="1075.6" width="10.5" height="6" rx="3" fill="#000" opacity="0.7" filter="url(#bl1_5)"/>
<rect x="1466.5" y="1146.55" width="32" height="16.5" rx="8.25" fill="#000" opacity="1" filter="url(#bl2_4)"/>
<rect x="1468.5" y="1149.05" width="28" height="11.5" rx="5.75" fill="#000" opacity="1" filter="url(#bl1_5)"/>
<rect x="1510" y="1145.05" width="35" height="16.5" rx="8.25" fill="#000" opacity="1" filter="url(#bl2_4)"/>
<rect x="1512" y="1147.55" width="31" height="11.5" rx="5.75" fill="#000" opacity="1" filter="url(#bl1_5)"/>
<rect x="1465.5" y="1224.5" width="33.5" height="12" rx="6" fill="#000" opacity="1" filter="url(#bl2_2)"/>
<rect x="1468" y="1226.5" width="29" height="8" rx="4" fill="#000" opacity="1" filter="url(#bl1_4)"/>
<rect x="1510" y="1228.8" width="34" height="8" rx="4" fill="#000" opacity="0.4" filter="url(#bl2)"/>
<rect x="1511" y="1229.3" width="11" height="7" rx="3.5" fill="#000" opacity="0.25" filter="url(#bl1_8)"/>
<rect x="1533" y="1229.5" width="10" height="7" rx="3.5" fill="#000" opacity="0.3" filter="url(#bl1_8)"/>
<rect x="1466" y="1295.8" width="31" height="8" rx="4" fill="#000" opacity="0.95" filter="url(#bl1_6)"/>
<rect x="1509" y="1296.25" width="36" height="8.5" rx="4.25" fill="#000" opacity="0.97" filter="url(#bl1_6)"/>
<rect x="1468.5" y="1365.55" width="32" height="8.5" rx="4.25" fill="#000" opacity="0.9" filter="url(#bl1_7)"/>
<rect x="1511" y="1364.75" width="37" height="8.5" rx="4.25" fill="#000" opacity="0.85" filter="url(#bl1_8)"/>
<rect x="1468.5" y="1427.35" width="32" height="7.5" rx="3.75" fill="#000" opacity="0.85" filter="url(#bl1_7)"/>
<rect x="1514.5" y="1426.6" width="33.5" height="8" rx="4" fill="#000" opacity="0.8" filter="url(#bl1_8)"/>
<rect x="1515" y="1425.8" width="17" height="9" rx="4.5" fill="#000" opacity="0.6" filter="url(#bl1_6)"/>
<rect x="1467.5" y="1482.5" width="81" height="9" rx="4.5" fill="#000" opacity="0.97" filter="url(#bl1_6)"/>
</g>
<rect x="1397.9" y="1041.9" width="158.1" height="66.1" fill="none" stroke="#000" stroke-width="2"/>
<rect x="1398.8" y="1116.1" width="157.2" height="75.9" fill="none" stroke="#000" stroke-width="2"/>
<rect x="1397.9" y="1198.8" width="158.1" height="66.3" fill="none" stroke="#000" stroke-width="2"/>
<rect x="1398.8" y="1270.2" width="157.2" height="61.8" fill="none" stroke="#000" stroke-width="2"/>
<rect x="1459.8" y="1340.4" width="98.6" height="56" fill="none" stroke="#000" stroke-width="2"/>
<rect x="1459.3" y="1404.2" width="100.2" height="52.7" fill="none" stroke="#000" stroke-width="2"/>
<rect x="1459.8" y="1463.2" width="98.6" height="49.5" fill="none" stroke="#000" stroke-width="2"/>
<line x1="1555.5" y1="1109.6" x2="1584.7" y2="1109.6" stroke="#000" stroke-width="1.5"/>
<text x="1596.5" y="1118" font-size="24.8">180</text>
<line x1="1553.5" y1="1183.3" x2="1583.2" y2="1183.3" stroke="#000" stroke-width="1.5"/>
<text x="1596.5" y="1190.7" font-size="24.8">72</text>
<line x1="1556.6" y1="1258.6" x2="1584.7" y2="1258.6" stroke="#000" stroke-width="1.5"/>
<text x="1596.5" y="1267.3" font-size="24.8">72</text>
<line x1="1556.6" y1="1325.8" x2="1584.7" y2="1325.8" stroke="#000" stroke-width="1.5"/>
<text x="1596.5" y="1333.5" font-size="24.8">180</text>
<line x1="1561.2" y1="1346.9" x2="1590.8" y2="1346.9" stroke="#000" stroke-width="1.5"/>
<text x="1596.5" y="1354.5" font-size="24.8">72</text>
<line x1="1560.4" y1="1452.4" x2="1589.3" y2="1452.4" stroke="#000" stroke-width="1.5"/>
<text x="1596.5" y="1459.8" font-size="24.8">180</text>
<line x1="1559.6" y1="1487.9" x2="1588.9" y2="1487.9" stroke="#000" stroke-width="1.5"/>
<text x="1596.5" y="1495.6" font-size="24.8">43</text>
<text x="1386" y="1090" font-size="24.8" text-anchor="end">BRD4</text>
<text x="1386" y="1171" font-size="24.8" text-anchor="end">FOXD3</text>
<text x="1386" y="1249" font-size="24.8" text-anchor="end">FOXD3</text>
<text x="1386" y="1309" font-size="24.8" text-anchor="end">BRD4</text>
<text x="1386" y="1381.8" font-size="24.8" text-anchor="end">FOXD3</text>
<text x="1386" y="1443" font-size="24.8" text-anchor="end">BRD4</text>
<text x="1386" y="1500" font-size="24.8" text-anchor="end">Actin</text>
<line x1="1288" y1="1066.8" x2="1288" y2="1167.4" stroke="#000" stroke-width="1.9"/>
<line x1="1288" y1="1212.5" x2="1288" y2="1312.8" stroke="#000" stroke-width="1.9"/>
<line x1="1288" y1="1334.9" x2="1288" y2="1506.7" stroke="#000" stroke-width="1.9"/>
<text x="1274" y="1116.5" font-size="24.8" text-anchor="middle" transform="rotate(-90 1274 1116.5)">IP-FOXD3</text>
<text x="1274" y="1262.3" font-size="24.8" text-anchor="middle" transform="rotate(-90 1274 1262.3)">IP-BRD4</text>
<text x="1274" y="1419.9" font-size="24.8" text-anchor="middle" transform="rotate(-90 1274 1419.9)">Input</text>
</svg>
</body></html>
